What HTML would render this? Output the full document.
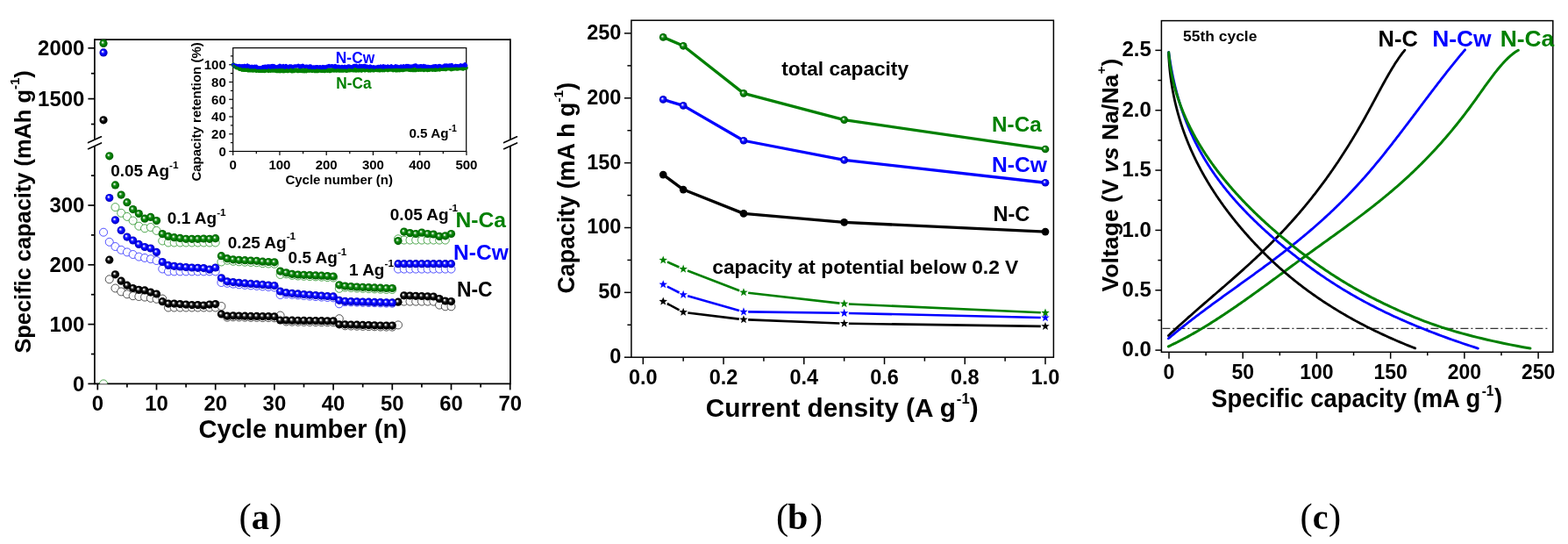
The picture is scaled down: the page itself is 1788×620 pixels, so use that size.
<!DOCTYPE html>
<html><head><meta charset="utf-8"><title>Figure</title>
<style>html,body{margin:0;padding:0;background:#fff;}svg{display:block;}</style></head><body>
<svg width="1788" height="620" viewBox="0 0 1788 620">
<defs>
<radialGradient id="ballg" cx="0.5" cy="0.5" r="0.5" fx="0.37" fy="0.36"><stop offset="0" stop-color="#f4fff4"/><stop offset="0.16" stop-color="#c0e4c0"/><stop offset="0.36" stop-color="#2a902a"/><stop offset="0.6" stop-color="#008000"/><stop offset="1" stop-color="#005c00"/></radialGradient>
<radialGradient id="ballb" cx="0.5" cy="0.5" r="0.5" fx="0.37" fy="0.36"><stop offset="0" stop-color="#ffffff"/><stop offset="0.16" stop-color="#c8c8ff"/><stop offset="0.36" stop-color="#2a2aff"/><stop offset="0.6" stop-color="#0000ff"/><stop offset="1" stop-color="#0000b0"/></radialGradient>
<radialGradient id="ballk" cx="0.5" cy="0.5" r="0.5" fx="0.37" fy="0.36"><stop offset="0" stop-color="#ffffff"/><stop offset="0.16" stop-color="#d8d8d8"/><stop offset="0.36" stop-color="#383838"/><stop offset="0.6" stop-color="#000000"/><stop offset="1" stop-color="#000000"/></radialGradient>
<clipPath id="clipA"><rect x="108" y="45" width="474" height="392.4"/></clipPath>
</defs>
<rect x="0" y="0" width="1788" height="620" fill="#fff"/>
<line x1="107.9" y1="44.35" x2="107.9" y2="159" stroke="#000" stroke-width="1.7"/>
<line x1="107.9" y1="166.3" x2="107.9" y2="438.25" stroke="#000" stroke-width="1.7"/>
<line x1="581.9" y1="44.35" x2="581.9" y2="159" stroke="#000" stroke-width="1.7"/>
<line x1="581.9" y1="166.3" x2="581.9" y2="438.25" stroke="#000" stroke-width="1.7"/>
<line x1="107.9" y1="45.2" x2="581.9" y2="45.2" stroke="#000" stroke-width="1.7"/>
<line x1="107.9" y1="437.4" x2="581.9" y2="437.4" stroke="#000" stroke-width="1.7"/>
<line x1="100.6" y1="162.6" x2="115.5" y2="155.8" stroke="#000" stroke-width="1.6" stroke-linecap="round"/>
<line x1="100.6" y1="169.7" x2="115.5" y2="162.9" stroke="#000" stroke-width="1.6" stroke-linecap="round"/>
<line x1="574.6" y1="162.6" x2="589.5" y2="155.8" stroke="#000" stroke-width="1.6" stroke-linecap="round"/>
<line x1="574.6" y1="169.7" x2="589.5" y2="162.9" stroke="#000" stroke-width="1.6" stroke-linecap="round"/>
<line x1="100.4" y1="437.4" x2="107.9" y2="437.4" stroke="#000" stroke-width="1.7"/>
<line x1="100.4" y1="369.6" x2="107.9" y2="369.6" stroke="#000" stroke-width="1.7"/>
<line x1="100.4" y1="301.8" x2="107.9" y2="301.8" stroke="#000" stroke-width="1.7"/>
<line x1="100.4" y1="234" x2="107.9" y2="234" stroke="#000" stroke-width="1.7"/>
<line x1="103.9" y1="403.5" x2="107.9" y2="403.5" stroke="#000" stroke-width="1.7"/>
<line x1="103.9" y1="335.7" x2="107.9" y2="335.7" stroke="#000" stroke-width="1.7"/>
<line x1="103.9" y1="267.9" x2="107.9" y2="267.9" stroke="#000" stroke-width="1.7"/>
<line x1="103.9" y1="200.1" x2="107.9" y2="200.1" stroke="#000" stroke-width="1.7"/>
<line x1="100.4" y1="112.6" x2="107.9" y2="112.6" stroke="#000" stroke-width="1.7"/>
<line x1="100.4" y1="54.8" x2="107.9" y2="54.8" stroke="#000" stroke-width="1.7"/>
<line x1="103.9" y1="141.5" x2="107.9" y2="141.5" stroke="#000" stroke-width="1.7"/>
<line x1="103.9" y1="83.7" x2="107.9" y2="83.7" stroke="#000" stroke-width="1.7"/>
<line x1="111.3" y1="437.4" x2="111.3" y2="444.4" stroke="#000" stroke-width="1.7"/>
<line x1="178.5" y1="437.4" x2="178.5" y2="444.4" stroke="#000" stroke-width="1.7"/>
<line x1="245.7" y1="437.4" x2="245.7" y2="444.4" stroke="#000" stroke-width="1.7"/>
<line x1="312.9" y1="437.4" x2="312.9" y2="444.4" stroke="#000" stroke-width="1.7"/>
<line x1="380.1" y1="437.4" x2="380.1" y2="444.4" stroke="#000" stroke-width="1.7"/>
<line x1="447.3" y1="437.4" x2="447.3" y2="444.4" stroke="#000" stroke-width="1.7"/>
<line x1="514.5" y1="437.4" x2="514.5" y2="444.4" stroke="#000" stroke-width="1.7"/>
<line x1="581.7" y1="437.4" x2="581.7" y2="444.4" stroke="#000" stroke-width="1.7"/>
<line x1="144.9" y1="437.4" x2="144.9" y2="441.4" stroke="#000" stroke-width="1.7"/>
<line x1="212.1" y1="437.4" x2="212.1" y2="441.4" stroke="#000" stroke-width="1.7"/>
<line x1="279.3" y1="437.4" x2="279.3" y2="441.4" stroke="#000" stroke-width="1.7"/>
<line x1="346.5" y1="437.4" x2="346.5" y2="441.4" stroke="#000" stroke-width="1.7"/>
<line x1="413.7" y1="437.4" x2="413.7" y2="441.4" stroke="#000" stroke-width="1.7"/>
<line x1="480.9" y1="437.4" x2="480.9" y2="441.4" stroke="#000" stroke-width="1.7"/>
<line x1="548.1" y1="437.4" x2="548.1" y2="441.4" stroke="#000" stroke-width="1.7"/>
<text transform="translate(96.3,445.6) scale(1.04,1)" font-size="23" text-anchor="end" fill="#000" font-weight="bold" font-family="'Liberation Sans', Arial, sans-serif">0</text>
<text transform="translate(96.3,377.8) scale(1.04,1)" font-size="23" text-anchor="end" fill="#000" font-weight="bold" font-family="'Liberation Sans', Arial, sans-serif">100</text>
<text transform="translate(96.3,310) scale(1.04,1)" font-size="23" text-anchor="end" fill="#000" font-weight="bold" font-family="'Liberation Sans', Arial, sans-serif">200</text>
<text transform="translate(96.3,242.2) scale(1.04,1)" font-size="23" text-anchor="end" fill="#000" font-weight="bold" font-family="'Liberation Sans', Arial, sans-serif">300</text>
<text transform="translate(96.3,120.8) scale(1.04,1)" font-size="23" text-anchor="end" fill="#000" font-weight="bold" font-family="'Liberation Sans', Arial, sans-serif">1500</text>
<text transform="translate(96.3,63) scale(1.04,1)" font-size="23" text-anchor="end" fill="#000" font-weight="bold" font-family="'Liberation Sans', Arial, sans-serif">2000</text>
<text transform="translate(111.3,468.2) scale(1.04,1)" font-size="23" text-anchor="middle" fill="#000" font-weight="bold" font-family="'Liberation Sans', Arial, sans-serif">0</text>
<text transform="translate(178.5,468.2) scale(1.04,1)" font-size="23" text-anchor="middle" fill="#000" font-weight="bold" font-family="'Liberation Sans', Arial, sans-serif">10</text>
<text transform="translate(245.7,468.2) scale(1.04,1)" font-size="23" text-anchor="middle" fill="#000" font-weight="bold" font-family="'Liberation Sans', Arial, sans-serif">20</text>
<text transform="translate(312.9,468.2) scale(1.04,1)" font-size="23" text-anchor="middle" fill="#000" font-weight="bold" font-family="'Liberation Sans', Arial, sans-serif">30</text>
<text transform="translate(380.1,468.2) scale(1.04,1)" font-size="23" text-anchor="middle" fill="#000" font-weight="bold" font-family="'Liberation Sans', Arial, sans-serif">40</text>
<text transform="translate(447.3,468.2) scale(1.04,1)" font-size="23" text-anchor="middle" fill="#000" font-weight="bold" font-family="'Liberation Sans', Arial, sans-serif">50</text>
<text transform="translate(514.5,468.2) scale(1.04,1)" font-size="23" text-anchor="middle" fill="#000" font-weight="bold" font-family="'Liberation Sans', Arial, sans-serif">60</text>
<text transform="translate(581.7,468.2) scale(1.04,1)" font-size="23" text-anchor="middle" fill="#000" font-weight="bold" font-family="'Liberation Sans', Arial, sans-serif">70</text>
<text x="345.2" y="499.2" font-size="29.5" text-anchor="middle" fill="#000" font-weight="bold" font-family="'Liberation Sans', Arial, sans-serif" textLength="237.3" lengthAdjust="spacingAndGlyphs">Cycle number (n)</text>
<text transform="translate(35,402.6) rotate(-90)" x="0" y="0" font-size="25.4" font-weight="bold" font-family="'Liberation Sans', Arial, sans-serif" fill="#000">Specific capacity (mAh g<tspan dy="-13" font-size="15">-1</tspan><tspan dy="13">)</tspan></text>
<rect x="265.7" y="54.6" width="266" height="117.9" fill="#fff" stroke="#000" stroke-width="1.2"/>
<line x1="261.2" y1="172.5" x2="265.7" y2="172.5" stroke="#000" stroke-width="1.2"/>
<line x1="261.2" y1="152.75" x2="265.7" y2="152.75" stroke="#000" stroke-width="1.2"/>
<line x1="261.2" y1="133" x2="265.7" y2="133" stroke="#000" stroke-width="1.2"/>
<line x1="261.2" y1="113.25" x2="265.7" y2="113.25" stroke="#000" stroke-width="1.2"/>
<line x1="261.2" y1="93.5" x2="265.7" y2="93.5" stroke="#000" stroke-width="1.2"/>
<line x1="261.2" y1="73.75" x2="265.7" y2="73.75" stroke="#000" stroke-width="1.2"/>
<line x1="262.9" y1="162.62" x2="265.7" y2="162.62" stroke="#000" stroke-width="1.2"/>
<line x1="262.9" y1="142.88" x2="265.7" y2="142.88" stroke="#000" stroke-width="1.2"/>
<line x1="262.9" y1="123.12" x2="265.7" y2="123.12" stroke="#000" stroke-width="1.2"/>
<line x1="262.9" y1="103.38" x2="265.7" y2="103.38" stroke="#000" stroke-width="1.2"/>
<line x1="262.9" y1="83.62" x2="265.7" y2="83.62" stroke="#000" stroke-width="1.2"/>
<line x1="262.9" y1="63.88" x2="265.7" y2="63.88" stroke="#000" stroke-width="1.2"/>
<line x1="265.7" y1="172.5" x2="265.7" y2="177" stroke="#000" stroke-width="1.2"/>
<line x1="318.95" y1="172.5" x2="318.95" y2="177" stroke="#000" stroke-width="1.2"/>
<line x1="372.2" y1="172.5" x2="372.2" y2="177" stroke="#000" stroke-width="1.2"/>
<line x1="425.45" y1="172.5" x2="425.45" y2="177" stroke="#000" stroke-width="1.2"/>
<line x1="478.7" y1="172.5" x2="478.7" y2="177" stroke="#000" stroke-width="1.2"/>
<line x1="531.95" y1="172.5" x2="531.95" y2="177" stroke="#000" stroke-width="1.2"/>
<line x1="292.32" y1="172.5" x2="292.32" y2="175.3" stroke="#000" stroke-width="1.2"/>
<line x1="345.57" y1="172.5" x2="345.57" y2="175.3" stroke="#000" stroke-width="1.2"/>
<line x1="398.82" y1="172.5" x2="398.82" y2="175.3" stroke="#000" stroke-width="1.2"/>
<line x1="452.07" y1="172.5" x2="452.07" y2="175.3" stroke="#000" stroke-width="1.2"/>
<line x1="505.32" y1="172.5" x2="505.32" y2="175.3" stroke="#000" stroke-width="1.2"/>
<text x="257.8" y="177.8" font-size="15" text-anchor="end" fill="#000" font-weight="bold" font-family="'Liberation Sans', Arial, sans-serif">0</text>
<text x="257.8" y="158.05" font-size="15" text-anchor="end" fill="#000" font-weight="bold" font-family="'Liberation Sans', Arial, sans-serif">20</text>
<text x="257.8" y="138.3" font-size="15" text-anchor="end" fill="#000" font-weight="bold" font-family="'Liberation Sans', Arial, sans-serif">40</text>
<text x="257.8" y="118.55" font-size="15" text-anchor="end" fill="#000" font-weight="bold" font-family="'Liberation Sans', Arial, sans-serif">60</text>
<text x="257.8" y="98.8" font-size="15" text-anchor="end" fill="#000" font-weight="bold" font-family="'Liberation Sans', Arial, sans-serif">80</text>
<text x="257.8" y="79.05" font-size="15" text-anchor="end" fill="#000" font-weight="bold" font-family="'Liberation Sans', Arial, sans-serif">100</text>
<text x="265.7" y="192.6" font-size="15" text-anchor="middle" fill="#000" font-weight="bold" font-family="'Liberation Sans', Arial, sans-serif">0</text>
<text x="318.95" y="192.6" font-size="15" text-anchor="middle" fill="#000" font-weight="bold" font-family="'Liberation Sans', Arial, sans-serif">100</text>
<text x="372.2" y="192.6" font-size="15" text-anchor="middle" fill="#000" font-weight="bold" font-family="'Liberation Sans', Arial, sans-serif">200</text>
<text x="425.45" y="192.6" font-size="15" text-anchor="middle" fill="#000" font-weight="bold" font-family="'Liberation Sans', Arial, sans-serif">300</text>
<text x="478.7" y="192.6" font-size="15" text-anchor="middle" fill="#000" font-weight="bold" font-family="'Liberation Sans', Arial, sans-serif">400</text>
<text x="531.95" y="192.6" font-size="15" text-anchor="middle" fill="#000" font-weight="bold" font-family="'Liberation Sans', Arial, sans-serif">500</text>
<text x="386.7" y="210.1" font-size="15" text-anchor="middle" fill="#000" font-weight="bold" font-family="'Liberation Sans', Arial, sans-serif">Cycle number (n)</text>
<text transform="translate(229.3,206.6) rotate(-90)" x="0" y="0" font-size="15" font-weight="bold" font-family="'Liberation Sans', Arial, sans-serif" fill="#000">Capacity retention (%)</text>
<polyline points="266.2,73.89 267.2,75.06 268.2,75.54 269.2,76.42 270.2,76.95 271.2,76.72 272.2,77.03 273.2,78.34 274.2,77.92 275.2,78.13 276.2,79.25 277.2,78.8 278.2,79.39 279.2,79.09 280.2,79.41 281.2,78.92 282.2,79.59 283.2,79.95 284.2,79.6 285.2,79.92 286.2,79.89 287.2,79.2 288.2,80.08 289.2,79.91 290.2,79.6 291.2,79.3 292.2,80.33 293.2,79.88 294.2,80.2 295.2,80.41 296.2,80.23 297.2,80.5 298.2,79.88 299.2,80.39 300.2,79.97 301.2,80.57 302.2,80.52 303.2,79.59 304.2,79.65 305.2,79.76 306.2,80.67 307.2,80.04 308.2,80.28 309.2,79.9 310.2,80.15 311.2,80.01 312.2,79.98 313.2,80.27 314.2,80.28 315.2,80.67 316.2,80.41 317.2,80.71 318.2,80.63 319.2,80.8 320.2,80.42 321.2,79.81 322.2,80.65 323.2,80.78 324.2,80.72 325.2,80.32 326.2,80.5 327.2,79.9 328.2,80.64 329.2,80.34 330.2,79.99 331.2,79.73 332.2,80.68 333.2,80.85 334.2,79.77 335.2,80.62 336.2,80.16 337.2,79.85 338.2,80.02 339.2,80.59 340.2,80.71 341.2,79.72 342.2,80.4 343.2,79.72 344.2,80.53 345.2,80.06 346.2,80.72 347.2,80.84 348.2,80.27 349.2,80.86 350.2,80.03 351.2,79.75 352.2,80.37 353.2,79.69 354.2,79.88 355.2,80.13 356.2,80.37 357.2,79.82 358.2,79.68 359.2,80.67 360.2,80 361.2,80.77 362.2,80.69 363.2,80.06 364.2,80.15 365.2,80.22 366.2,80.36 367.2,80.3 368.2,80.25 369.2,80.31 370.2,80.69 371.2,80.16 372.2,80.06 373.2,80.4 374.2,79.82 375.2,79.88 376.2,80.69 377.2,80.13 378.2,80.16 379.2,79.5 380.2,79.98 381.2,80.17 382.2,79.49 383.2,80.19 384.2,80.2 385.2,79.5 386.2,80.18 387.2,79.97 388.2,80.22 389.2,79.82 390.2,80.23 391.2,80.26 392.2,79.39 393.2,79.42 394.2,80.15 395.2,80.48 396.2,79.62 397.2,79.85 398.2,80 399.2,79.67 400.2,79.71 401.2,79.63 402.2,79.69 403.2,79.95 404.2,79.58 405.2,79.66 406.2,80.13 407.2,79.22 408.2,79.86 409.2,80.04 410.2,79.52 411.2,79.4 412.2,80.09 413.2,79.4 414.2,79.33 415.2,79.61 416.2,79.91 417.2,79.19 418.2,79.44 419.2,79.44 420.2,80.03 421.2,79.54 422.2,80.03 423.2,79.19 424.2,79.38 425.2,79.75 426.2,80.01 427.2,79.48 428.2,79.2 429.2,79.06 430.2,79.54 431.2,79.12 432.2,79.85 433.2,79.88 434.2,79.08 435.2,79.18 436.2,79.8 437.2,79.59 438.2,79.78 439.2,79.22 440.2,78.95 441.2,79.13 442.2,79.72 443.2,79.08 444.2,79.16 445.2,79.24 446.2,79.23 447.2,79.21 448.2,79.81 449.2,78.89 450.2,78.7 451.2,79.81 452.2,79.73 453.2,79.85 454.2,79.17 455.2,79.79 456.2,79.75 457.2,78.89 458.2,79.51 459.2,79.62 460.2,79.4 461.2,79.22 462.2,78.94 463.2,78.99 464.2,78.85 465.2,78.65 466.2,79.27 467.2,78.9 468.2,79.52 469.2,78.6 470.2,79.62 471.2,79.37 472.2,79.64 473.2,79.6 474.2,79.6 475.2,79.21 476.2,78.53 477.2,79.4 478.2,78.71 479.2,78.86 480.2,79.29 481.2,79.13 482.2,78.99 483.2,79.62 484.2,79.22 485.2,78.9 486.2,78.79 487.2,79.52 488.2,79.06 489.2,79.42 490.2,78.87 491.2,78.65 492.2,79.02 493.2,79.32 494.2,78.51 495.2,79.22 496.2,79.34 497.2,79.16 498.2,79.15 499.2,78.13 500.2,78.84 501.2,79.09 502.2,78.08 503.2,78.31 504.2,78.27 505.2,78.55 506.2,78.39 507.2,78.42 508.2,78.75 509.2,77.79 510.2,77.82 511.2,77.87 512.2,77.84 513.2,77.74 514.2,78.8 515.2,78.62 516.2,77.67 517.2,78.14 518.2,77.88 519.2,77.85 520.2,77.86 521.2,78.19 522.2,78.09 523.2,77.78 524.2,77.55 525.2,77.69 526.2,77.41 527.2,77.9 528.2,78.07 529.2,77.63 530.2,77.25 531.2,77.34" fill="none" stroke="#008000" stroke-width="5.2" stroke-linejoin="round" stroke-linecap="round" stroke-linecap="butt"/>
<polyline points="266.2,73.87 267.2,74.63 268.2,75.22 269.2,74.59 270.2,75.57 271.2,75.31 272.2,75 273.2,74.93 274.2,75.2 275.2,75.64 276.2,75.09 277.2,75.65 278.2,75.2 279.2,74.79 280.2,75.41 281.2,75.77 282.2,74.57 283.2,75.35 284.2,75.42 285.2,76.42 286.2,76.63 287.2,75.61 288.2,76.77 289.2,76.66 290.2,75.72 291.2,76.23 292.2,75.64 293.2,77.11 294.2,76.89 295.2,77.4 296.2,77.25 297.2,77.03 298.2,77.17 299.2,76.82 300.2,75.87 301.2,76.8 302.2,75.57 303.2,75.78 304.2,76.95 305.2,75.4 306.2,75.4 307.2,75.31 308.2,76.78 309.2,75.28 310.2,74.88 311.2,76.44 312.2,74.93 313.2,76.32 314.2,75.94 315.2,76.24 316.2,76.46 317.2,75.72 318.2,76.17 319.2,74.67 320.2,76.17 321.2,75.7 322.2,76.15 323.2,74.98 324.2,76.31 325.2,76.72 326.2,75.01 327.2,75.56 328.2,76.06 329.2,76.59 330.2,75.42 331.2,75.28 332.2,75.39 333.2,76.08 334.2,76.31 335.2,75.54 336.2,75.43 337.2,75.43 338.2,75.27 339.2,75.35 340.2,74.63 341.2,75.42 342.2,76.34 343.2,75.2 344.2,75.86 345.2,74.7 346.2,75.79 347.2,75.96 348.2,75.86 349.2,75.62 350.2,75.64 351.2,76.05 352.2,76.66 353.2,75.28 354.2,75.28 355.2,76.69 356.2,77.14 357.2,76.43 358.2,76.37 359.2,77 360.2,75.99 361.2,76.19 362.2,76.08 363.2,76.86 364.2,76.31 365.2,76.11 366.2,76.98 367.2,77.45 368.2,76.06 369.2,76.8 370.2,76.13 371.2,76.92 372.2,76.28 373.2,75.56 374.2,75.38 375.2,74.91 376.2,75.76 377.2,75.51 378.2,75.05 379.2,75.39 380.2,75.3 381.2,76.2 382.2,74.95 383.2,76.67 384.2,75.67 385.2,75.95 386.2,75.73 387.2,76.5 388.2,76.52 389.2,76.03 390.2,75.91 391.2,76.41 392.2,76.69 393.2,75.78 394.2,76.44 395.2,76.88 396.2,75.86 397.2,75.34 398.2,75.3 399.2,76.2 400.2,76.05 401.2,76.55 402.2,76.27 403.2,74.98 404.2,74.81 405.2,74.89 406.2,74.71 407.2,75.71 408.2,76.01 409.2,76.09 410.2,74.82 411.2,76.07 412.2,75.02 413.2,75.3 414.2,75.99 415.2,74.8 416.2,74.92 417.2,76.51 418.2,75.54 419.2,75.78 420.2,76.34 421.2,76.63 422.2,75.39 423.2,76.13 424.2,76.41 425.2,76.56 426.2,76.05 427.2,76.82 428.2,77.56 429.2,76.42 430.2,76.69 431.2,75.8 432.2,76.05 433.2,76.76 434.2,75.58 435.2,77.05 436.2,77.01 437.2,75.3 438.2,76.91 439.2,75.7 440.2,76.44 441.2,76.35 442.2,75.39 443.2,76.12 444.2,76.06 445.2,76.36 446.2,75.29 447.2,76.28 448.2,76.73 449.2,76.18 450.2,75.95 451.2,75.14 452.2,75.94 453.2,75.69 454.2,76.46 455.2,76.4 456.2,76.19 457.2,75.42 458.2,76.33 459.2,76.28 460.2,75.34 461.2,76.71 462.2,76.19 463.2,75.06 464.2,76.6 465.2,74.94 466.2,75.24 467.2,75.94 468.2,75.62 469.2,75.47 470.2,75.6 471.2,75.18 472.2,74.86 473.2,74.57 474.2,74.36 475.2,75.68 476.2,75.8 477.2,75.43 478.2,75.89 479.2,75.2 480.2,75.09 481.2,75.4 482.2,76.46 483.2,74.88 484.2,75.89 485.2,75.46 486.2,76.58 487.2,75.81 488.2,75.83 489.2,76 490.2,76.3 491.2,76.77 492.2,75.92 493.2,76.88 494.2,75.37 495.2,75.62 496.2,75.21 497.2,75.15 498.2,76.39 499.2,76.19 500.2,75 501.2,74.91 502.2,75.26 503.2,75.82 504.2,75.88 505.2,75.67 506.2,75.29 507.2,74.35 508.2,74.81 509.2,74.37 510.2,75.02 511.2,75.09 512.2,74.36 513.2,74.46 514.2,75.53 515.2,74.04 516.2,75.6 517.2,75.79 518.2,75.91 519.2,74.77 520.2,75.09 521.2,75.13 522.2,75.19 523.2,75.82 524.2,75.18 525.2,74.32 526.2,75.35 527.2,74.5 528.2,74.63 529.2,74.77 530.2,73.2 531.2,74.62" fill="none" stroke="#0000ff" stroke-width="4.2" stroke-linejoin="round" stroke-linecap="round" stroke-linecap="butt"/>
<polyline points="266.2,74.36 267.5,75.22 268.8,76.09 270.1,76.71 271.4,77.01 272.7,77.81 274,77.7 275.3,78.47 276.6,78.88 277.9,78.89 279.2,79.19 280.5,79.73 281.8,79.79 283.1,79.13 284.4,79.88 285.7,79.78 287,79.27 288.3,79.63 289.6,79.55 290.9,79.44 292.2,79.93 293.5,80.35 294.8,79.77 296.1,80.35 297.4,80.19 298.7,79.65 300,80.39 301.3,80.15 302.6,80.5 303.9,80.3 305.2,80.34 306.5,79.95 307.8,80.43 309.1,80.57 310.4,80.51 311.7,80.09 313,80.42 314.3,80.16 315.6,79.79 316.9,79.74 318.2,79.78 319.5,79.91 320.8,79.88 322.1,80.22 323.4,80.43 324.7,80.27 326,80.16 327.3,80.39 328.6,80.05 329.9,80.22 331.2,80.51 332.5,80.16 333.8,79.94 335.1,80.66 336.4,80.48 337.7,80.13 339,80.14 340.3,80.3 341.6,80.36 342.9,79.99 344.2,79.77 345.5,79.97 346.8,80.55 348.1,79.9 349.4,80.22 350.7,79.95 352,79.96 353.3,79.92 354.6,80.15 355.9,79.91 357.2,79.76 358.5,79.84 359.8,79.89 361.1,80.21 362.4,79.77 363.7,79.72 365,80.14 366.3,80.09 367.6,80.38 368.9,79.72 370.2,80.06 371.5,80.05 372.8,79.67 374.1,80.6 375.4,79.84 376.7,79.7 378,80.07 379.3,79.75 380.6,80.2 381.9,79.91 383.2,79.68 384.5,79.59 385.8,80.25 387.1,79.79 388.4,80.29 389.7,79.95 391,80.41 392.3,79.76 393.6,79.69 394.9,79.7 396.2,80.23 397.5,80.03 398.8,79.73 400.1,79.46 401.4,80.04 402.7,80.31 404,79.92 405.3,79.31 406.6,79.32 407.9,79.37 409.2,79.43 410.5,79.28 411.8,79.28 413.1,79.87 414.4,80.1 415.7,79.38 417,80.14 418.3,79.63 419.6,79.94 420.9,80.04 422.2,80.04 423.5,79.12 424.8,79.37 426.1,79.66 427.4,79.99 428.7,79.11 430,79.3 431.3,79.84 432.6,79.09 433.9,79.35 435.2,79.28 436.5,79.61 437.8,79.85 439.1,79.08 440.4,79.63 441.7,79.61 443,79.7 444.3,79.4 445.6,79.76 446.9,79.18 448.2,79.22 449.5,79.03 450.8,79.56 452.1,79.25 453.4,79.03 454.7,78.92 456,79.46 457.3,79.33 458.6,79.43 459.9,79.09 461.2,79.18 462.5,78.84 463.8,79.39 465.1,78.69 466.4,79.13 467.7,79.41 469,79.32 470.3,78.74 471.6,78.87 472.9,79.47 474.2,79.26 475.5,79.49 476.8,79.48 478.1,79.06 479.4,79.5 480.7,79.33 482,78.93 483.3,78.96 484.6,78.66 485.9,78.99 487.2,79.54 488.5,78.69 489.8,79.14 491.1,78.63 492.4,78.55 493.7,79.07 495,78.62 496.3,78.38 497.6,78.43 498.9,78.88 500.2,78.78 501.5,78.16 502.8,78.33 504.1,79.02 505.4,78.23 506.7,78.53 508,78.35 509.3,78.66 510.6,78.44 511.9,78.59 513.2,78.29 514.5,77.9 515.8,77.85 517.1,77.71 518.4,78.42 519.7,77.67 521,77.54 522.3,78.44 523.6,77.64 524.9,78.3 526.2,77.45 527.5,77.79 528.8,77.51 530.1,78.08" fill="none" stroke="#008000" stroke-width="2" stroke-linejoin="round" stroke-linecap="round" stroke-linecap="butt"/>
<text x="382.8" y="71.6" font-size="18" text-anchor="start" fill="#0000ff" font-weight="bold" font-family="'Liberation Sans', Arial, sans-serif" textLength="44.4" lengthAdjust="spacingAndGlyphs">N-Cw</text>
<text x="383.3" y="100.7" font-size="17.6" text-anchor="start" fill="#008000" font-weight="bold" font-family="'Liberation Sans', Arial, sans-serif" textLength="40.3" lengthAdjust="spacingAndGlyphs">N-Ca</text>
<text x="466.4" y="157.4" font-size="15.2" font-weight="bold" font-family="'Liberation Sans', Arial, sans-serif" fill="#000">0.5 Ag<tspan dy="-7" font-size="10.5">-1</tspan></text>
<g clip-path="url(#clipA)">
<circle cx="124.74" cy="318.3" r="4.5" fill="#fff" stroke="#000000" stroke-width="0.75" stroke-opacity="0.9"/>
<circle cx="124.74" cy="318.3" r="0.45" fill="#000000" opacity="0.35"/>
<circle cx="131.46" cy="328.5" r="4.5" fill="#fff" stroke="#000000" stroke-width="0.75" stroke-opacity="0.9"/>
<circle cx="131.46" cy="328.5" r="0.45" fill="#000000" opacity="0.35"/>
<circle cx="138.18" cy="332.4" r="4.5" fill="#fff" stroke="#000000" stroke-width="0.75" stroke-opacity="0.9"/>
<circle cx="138.18" cy="332.4" r="0.45" fill="#000000" opacity="0.35"/>
<circle cx="144.9" cy="335.3" r="4.5" fill="#fff" stroke="#000000" stroke-width="0.75" stroke-opacity="0.9"/>
<circle cx="144.9" cy="335.3" r="0.45" fill="#000000" opacity="0.35"/>
<circle cx="151.62" cy="337.2" r="4.5" fill="#fff" stroke="#000000" stroke-width="0.75" stroke-opacity="0.9"/>
<circle cx="151.62" cy="337.2" r="0.45" fill="#000000" opacity="0.35"/>
<circle cx="158.34" cy="338" r="4.5" fill="#fff" stroke="#000000" stroke-width="0.75" stroke-opacity="0.9"/>
<circle cx="158.34" cy="338" r="0.45" fill="#000000" opacity="0.35"/>
<circle cx="165.06" cy="338.6" r="4.5" fill="#fff" stroke="#000000" stroke-width="0.75" stroke-opacity="0.9"/>
<circle cx="165.06" cy="338.6" r="0.45" fill="#000000" opacity="0.35"/>
<circle cx="171.78" cy="339.8" r="4.5" fill="#fff" stroke="#000000" stroke-width="0.75" stroke-opacity="0.9"/>
<circle cx="171.78" cy="339.8" r="0.45" fill="#000000" opacity="0.35"/>
<circle cx="178.5" cy="340.8" r="4.5" fill="#fff" stroke="#000000" stroke-width="0.75" stroke-opacity="0.9"/>
<circle cx="178.5" cy="340.8" r="0.45" fill="#000000" opacity="0.35"/>
<circle cx="185.22" cy="340.5" r="4.5" fill="#fff" stroke="#000000" stroke-width="0.75" stroke-opacity="0.9"/>
<circle cx="185.22" cy="340.5" r="0.45" fill="#000000" opacity="0.35"/>
<circle cx="191.94" cy="350.5" r="4.5" fill="#fff" stroke="#000000" stroke-width="0.75" stroke-opacity="0.9"/>
<circle cx="191.94" cy="350.5" r="0.45" fill="#000000" opacity="0.35"/>
<circle cx="198.66" cy="350.5" r="4.5" fill="#fff" stroke="#000000" stroke-width="0.75" stroke-opacity="0.9"/>
<circle cx="198.66" cy="350.5" r="0.45" fill="#000000" opacity="0.35"/>
<circle cx="205.38" cy="350.5" r="4.5" fill="#fff" stroke="#000000" stroke-width="0.75" stroke-opacity="0.9"/>
<circle cx="205.38" cy="350.5" r="0.45" fill="#000000" opacity="0.35"/>
<circle cx="212.1" cy="350.5" r="4.5" fill="#fff" stroke="#000000" stroke-width="0.75" stroke-opacity="0.9"/>
<circle cx="212.1" cy="350.5" r="0.45" fill="#000000" opacity="0.35"/>
<circle cx="218.82" cy="350.5" r="4.5" fill="#fff" stroke="#000000" stroke-width="0.75" stroke-opacity="0.9"/>
<circle cx="218.82" cy="350.5" r="0.45" fill="#000000" opacity="0.35"/>
<circle cx="225.54" cy="350.5" r="4.5" fill="#fff" stroke="#000000" stroke-width="0.75" stroke-opacity="0.9"/>
<circle cx="225.54" cy="350.5" r="0.45" fill="#000000" opacity="0.35"/>
<circle cx="232.26" cy="350.5" r="4.5" fill="#fff" stroke="#000000" stroke-width="0.75" stroke-opacity="0.9"/>
<circle cx="232.26" cy="350.5" r="0.45" fill="#000000" opacity="0.35"/>
<circle cx="238.98" cy="350.5" r="4.5" fill="#fff" stroke="#000000" stroke-width="0.75" stroke-opacity="0.9"/>
<circle cx="238.98" cy="350.5" r="0.45" fill="#000000" opacity="0.35"/>
<circle cx="245.7" cy="350.5" r="4.5" fill="#fff" stroke="#000000" stroke-width="0.75" stroke-opacity="0.9"/>
<circle cx="245.7" cy="350.5" r="0.45" fill="#000000" opacity="0.35"/>
<circle cx="252.42" cy="349" r="4.5" fill="#fff" stroke="#000000" stroke-width="0.75" stroke-opacity="0.9"/>
<circle cx="252.42" cy="349" r="0.45" fill="#000000" opacity="0.35"/>
<circle cx="259.14" cy="361.7" r="4.5" fill="#fff" stroke="#000000" stroke-width="0.75" stroke-opacity="0.9"/>
<circle cx="259.14" cy="361.7" r="0.45" fill="#000000" opacity="0.35"/>
<circle cx="265.86" cy="361.3" r="4.5" fill="#fff" stroke="#000000" stroke-width="0.75" stroke-opacity="0.9"/>
<circle cx="265.86" cy="361.3" r="0.45" fill="#000000" opacity="0.35"/>
<circle cx="272.58" cy="361.5" r="4.5" fill="#fff" stroke="#000000" stroke-width="0.75" stroke-opacity="0.9"/>
<circle cx="272.58" cy="361.5" r="0.45" fill="#000000" opacity="0.35"/>
<circle cx="279.3" cy="361.7" r="4.5" fill="#fff" stroke="#000000" stroke-width="0.75" stroke-opacity="0.9"/>
<circle cx="279.3" cy="361.7" r="0.45" fill="#000000" opacity="0.35"/>
<circle cx="286.02" cy="361.9" r="4.5" fill="#fff" stroke="#000000" stroke-width="0.75" stroke-opacity="0.9"/>
<circle cx="286.02" cy="361.9" r="0.45" fill="#000000" opacity="0.35"/>
<circle cx="292.74" cy="361.9" r="4.5" fill="#fff" stroke="#000000" stroke-width="0.75" stroke-opacity="0.9"/>
<circle cx="292.74" cy="361.9" r="0.45" fill="#000000" opacity="0.35"/>
<circle cx="299.46" cy="362.1" r="4.5" fill="#fff" stroke="#000000" stroke-width="0.75" stroke-opacity="0.9"/>
<circle cx="299.46" cy="362.1" r="0.45" fill="#000000" opacity="0.35"/>
<circle cx="306.18" cy="362.1" r="4.5" fill="#fff" stroke="#000000" stroke-width="0.75" stroke-opacity="0.9"/>
<circle cx="306.18" cy="362.1" r="0.45" fill="#000000" opacity="0.35"/>
<circle cx="312.9" cy="362.3" r="4.5" fill="#fff" stroke="#000000" stroke-width="0.75" stroke-opacity="0.9"/>
<circle cx="312.9" cy="362.3" r="0.45" fill="#000000" opacity="0.35"/>
<circle cx="319.62" cy="359.5" r="4.5" fill="#fff" stroke="#000000" stroke-width="0.75" stroke-opacity="0.9"/>
<circle cx="319.62" cy="359.5" r="0.45" fill="#000000" opacity="0.35"/>
<circle cx="326.34" cy="366.5" r="4.5" fill="#fff" stroke="#000000" stroke-width="0.75" stroke-opacity="0.9"/>
<circle cx="326.34" cy="366.5" r="0.45" fill="#000000" opacity="0.35"/>
<circle cx="333.06" cy="366.7" r="4.5" fill="#fff" stroke="#000000" stroke-width="0.75" stroke-opacity="0.9"/>
<circle cx="333.06" cy="366.7" r="0.45" fill="#000000" opacity="0.35"/>
<circle cx="339.78" cy="366.8" r="4.5" fill="#fff" stroke="#000000" stroke-width="0.75" stroke-opacity="0.9"/>
<circle cx="339.78" cy="366.8" r="0.45" fill="#000000" opacity="0.35"/>
<circle cx="346.5" cy="366.9" r="4.5" fill="#fff" stroke="#000000" stroke-width="0.75" stroke-opacity="0.9"/>
<circle cx="346.5" cy="366.9" r="0.45" fill="#000000" opacity="0.35"/>
<circle cx="353.22" cy="367" r="4.5" fill="#fff" stroke="#000000" stroke-width="0.75" stroke-opacity="0.9"/>
<circle cx="353.22" cy="367" r="0.45" fill="#000000" opacity="0.35"/>
<circle cx="359.94" cy="367.1" r="4.5" fill="#fff" stroke="#000000" stroke-width="0.75" stroke-opacity="0.9"/>
<circle cx="359.94" cy="367.1" r="0.45" fill="#000000" opacity="0.35"/>
<circle cx="366.66" cy="367.2" r="4.5" fill="#fff" stroke="#000000" stroke-width="0.75" stroke-opacity="0.9"/>
<circle cx="366.66" cy="367.2" r="0.45" fill="#000000" opacity="0.35"/>
<circle cx="373.38" cy="367.3" r="4.5" fill="#fff" stroke="#000000" stroke-width="0.75" stroke-opacity="0.9"/>
<circle cx="373.38" cy="367.3" r="0.45" fill="#000000" opacity="0.35"/>
<circle cx="380.1" cy="367.3" r="4.5" fill="#fff" stroke="#000000" stroke-width="0.75" stroke-opacity="0.9"/>
<circle cx="380.1" cy="367.3" r="0.45" fill="#000000" opacity="0.35"/>
<circle cx="386.82" cy="363.2" r="4.5" fill="#fff" stroke="#000000" stroke-width="0.75" stroke-opacity="0.9"/>
<circle cx="386.82" cy="363.2" r="0.45" fill="#000000" opacity="0.35"/>
<circle cx="393.54" cy="371.3" r="4.5" fill="#fff" stroke="#000000" stroke-width="0.75" stroke-opacity="0.9"/>
<circle cx="393.54" cy="371.3" r="0.45" fill="#000000" opacity="0.35"/>
<circle cx="400.26" cy="371.5" r="4.5" fill="#fff" stroke="#000000" stroke-width="0.75" stroke-opacity="0.9"/>
<circle cx="400.26" cy="371.5" r="0.45" fill="#000000" opacity="0.35"/>
<circle cx="406.98" cy="371.7" r="4.5" fill="#fff" stroke="#000000" stroke-width="0.75" stroke-opacity="0.9"/>
<circle cx="406.98" cy="371.7" r="0.45" fill="#000000" opacity="0.35"/>
<circle cx="413.7" cy="371.9" r="4.5" fill="#fff" stroke="#000000" stroke-width="0.75" stroke-opacity="0.9"/>
<circle cx="413.7" cy="371.9" r="0.45" fill="#000000" opacity="0.35"/>
<circle cx="420.42" cy="372.1" r="4.5" fill="#fff" stroke="#000000" stroke-width="0.75" stroke-opacity="0.9"/>
<circle cx="420.42" cy="372.1" r="0.45" fill="#000000" opacity="0.35"/>
<circle cx="427.14" cy="372.3" r="4.5" fill="#fff" stroke="#000000" stroke-width="0.75" stroke-opacity="0.9"/>
<circle cx="427.14" cy="372.3" r="0.45" fill="#000000" opacity="0.35"/>
<circle cx="433.86" cy="372.5" r="4.5" fill="#fff" stroke="#000000" stroke-width="0.75" stroke-opacity="0.9"/>
<circle cx="433.86" cy="372.5" r="0.45" fill="#000000" opacity="0.35"/>
<circle cx="440.58" cy="372.6" r="4.5" fill="#fff" stroke="#000000" stroke-width="0.75" stroke-opacity="0.9"/>
<circle cx="440.58" cy="372.6" r="0.45" fill="#000000" opacity="0.35"/>
<circle cx="447.3" cy="372.6" r="4.5" fill="#fff" stroke="#000000" stroke-width="0.75" stroke-opacity="0.9"/>
<circle cx="447.3" cy="372.6" r="0.45" fill="#000000" opacity="0.35"/>
<circle cx="454.02" cy="370.4" r="4.5" fill="#fff" stroke="#000000" stroke-width="0.75" stroke-opacity="0.9"/>
<circle cx="454.02" cy="370.4" r="0.45" fill="#000000" opacity="0.35"/>
<circle cx="460.74" cy="343.6" r="4.5" fill="#fff" stroke="#000000" stroke-width="0.75" stroke-opacity="0.9"/>
<circle cx="460.74" cy="343.6" r="0.45" fill="#000000" opacity="0.35"/>
<circle cx="467.46" cy="343.6" r="4.5" fill="#fff" stroke="#000000" stroke-width="0.75" stroke-opacity="0.9"/>
<circle cx="467.46" cy="343.6" r="0.45" fill="#000000" opacity="0.35"/>
<circle cx="474.18" cy="343.6" r="4.5" fill="#fff" stroke="#000000" stroke-width="0.75" stroke-opacity="0.9"/>
<circle cx="474.18" cy="343.6" r="0.45" fill="#000000" opacity="0.35"/>
<circle cx="480.9" cy="343.6" r="4.5" fill="#fff" stroke="#000000" stroke-width="0.75" stroke-opacity="0.9"/>
<circle cx="480.9" cy="343.6" r="0.45" fill="#000000" opacity="0.35"/>
<circle cx="487.62" cy="343.6" r="4.5" fill="#fff" stroke="#000000" stroke-width="0.75" stroke-opacity="0.9"/>
<circle cx="487.62" cy="343.6" r="0.45" fill="#000000" opacity="0.35"/>
<circle cx="494.34" cy="343.6" r="4.5" fill="#fff" stroke="#000000" stroke-width="0.75" stroke-opacity="0.9"/>
<circle cx="494.34" cy="343.6" r="0.45" fill="#000000" opacity="0.35"/>
<circle cx="501.06" cy="347.6" r="4.5" fill="#fff" stroke="#000000" stroke-width="0.75" stroke-opacity="0.9"/>
<circle cx="501.06" cy="347.6" r="0.45" fill="#000000" opacity="0.35"/>
<circle cx="507.78" cy="349.3" r="4.5" fill="#fff" stroke="#000000" stroke-width="0.75" stroke-opacity="0.9"/>
<circle cx="507.78" cy="349.3" r="0.45" fill="#000000" opacity="0.35"/>
<circle cx="514.5" cy="349.3" r="4.5" fill="#fff" stroke="#000000" stroke-width="0.75" stroke-opacity="0.9"/>
<circle cx="514.5" cy="349.3" r="0.45" fill="#000000" opacity="0.35"/>
<circle cx="118.02" cy="264.7" r="4.5" fill="#fff" stroke="#0000ff" stroke-width="0.75" stroke-opacity="0.9"/>
<circle cx="118.02" cy="264.7" r="0.45" fill="#0000ff" opacity="0.35"/>
<circle cx="124.74" cy="275.8" r="4.5" fill="#fff" stroke="#0000ff" stroke-width="0.75" stroke-opacity="0.9"/>
<circle cx="124.74" cy="275.8" r="0.45" fill="#0000ff" opacity="0.35"/>
<circle cx="131.46" cy="281" r="4.5" fill="#fff" stroke="#0000ff" stroke-width="0.75" stroke-opacity="0.9"/>
<circle cx="131.46" cy="281" r="0.45" fill="#0000ff" opacity="0.35"/>
<circle cx="138.18" cy="284.8" r="4.5" fill="#fff" stroke="#0000ff" stroke-width="0.75" stroke-opacity="0.9"/>
<circle cx="138.18" cy="284.8" r="0.45" fill="#0000ff" opacity="0.35"/>
<circle cx="144.9" cy="287.4" r="4.5" fill="#fff" stroke="#0000ff" stroke-width="0.75" stroke-opacity="0.9"/>
<circle cx="144.9" cy="287.4" r="0.45" fill="#0000ff" opacity="0.35"/>
<circle cx="151.62" cy="290" r="4.5" fill="#fff" stroke="#0000ff" stroke-width="0.75" stroke-opacity="0.9"/>
<circle cx="151.62" cy="290" r="0.45" fill="#0000ff" opacity="0.35"/>
<circle cx="158.34" cy="292.6" r="4.5" fill="#fff" stroke="#0000ff" stroke-width="0.75" stroke-opacity="0.9"/>
<circle cx="158.34" cy="292.6" r="0.45" fill="#0000ff" opacity="0.35"/>
<circle cx="165.06" cy="293.9" r="4.5" fill="#fff" stroke="#0000ff" stroke-width="0.75" stroke-opacity="0.9"/>
<circle cx="165.06" cy="293.9" r="0.45" fill="#0000ff" opacity="0.35"/>
<circle cx="171.78" cy="295.2" r="4.5" fill="#fff" stroke="#0000ff" stroke-width="0.75" stroke-opacity="0.9"/>
<circle cx="171.78" cy="295.2" r="0.45" fill="#0000ff" opacity="0.35"/>
<circle cx="178.5" cy="297" r="4.5" fill="#fff" stroke="#0000ff" stroke-width="0.75" stroke-opacity="0.9"/>
<circle cx="178.5" cy="297" r="0.45" fill="#0000ff" opacity="0.35"/>
<circle cx="185.22" cy="306.5" r="4.5" fill="#fff" stroke="#0000ff" stroke-width="0.75" stroke-opacity="0.9"/>
<circle cx="185.22" cy="306.5" r="0.45" fill="#0000ff" opacity="0.35"/>
<circle cx="191.94" cy="309.4" r="4.5" fill="#fff" stroke="#0000ff" stroke-width="0.75" stroke-opacity="0.9"/>
<circle cx="191.94" cy="309.4" r="0.45" fill="#0000ff" opacity="0.35"/>
<circle cx="198.66" cy="309.4" r="4.5" fill="#fff" stroke="#0000ff" stroke-width="0.75" stroke-opacity="0.9"/>
<circle cx="198.66" cy="309.4" r="0.45" fill="#0000ff" opacity="0.35"/>
<circle cx="205.38" cy="309.4" r="4.5" fill="#fff" stroke="#0000ff" stroke-width="0.75" stroke-opacity="0.9"/>
<circle cx="205.38" cy="309.4" r="0.45" fill="#0000ff" opacity="0.35"/>
<circle cx="212.1" cy="309.4" r="4.5" fill="#fff" stroke="#0000ff" stroke-width="0.75" stroke-opacity="0.9"/>
<circle cx="212.1" cy="309.4" r="0.45" fill="#0000ff" opacity="0.35"/>
<circle cx="218.82" cy="309.4" r="4.5" fill="#fff" stroke="#0000ff" stroke-width="0.75" stroke-opacity="0.9"/>
<circle cx="218.82" cy="309.4" r="0.45" fill="#0000ff" opacity="0.35"/>
<circle cx="225.54" cy="309.4" r="4.5" fill="#fff" stroke="#0000ff" stroke-width="0.75" stroke-opacity="0.9"/>
<circle cx="225.54" cy="309.4" r="0.45" fill="#0000ff" opacity="0.35"/>
<circle cx="232.26" cy="309.4" r="4.5" fill="#fff" stroke="#0000ff" stroke-width="0.75" stroke-opacity="0.9"/>
<circle cx="232.26" cy="309.4" r="0.45" fill="#0000ff" opacity="0.35"/>
<circle cx="238.98" cy="309.4" r="4.5" fill="#fff" stroke="#0000ff" stroke-width="0.75" stroke-opacity="0.9"/>
<circle cx="238.98" cy="309.4" r="0.45" fill="#0000ff" opacity="0.35"/>
<circle cx="245.7" cy="309.4" r="4.5" fill="#fff" stroke="#0000ff" stroke-width="0.75" stroke-opacity="0.9"/>
<circle cx="245.7" cy="309.4" r="0.45" fill="#0000ff" opacity="0.35"/>
<circle cx="252.42" cy="322" r="4.5" fill="#fff" stroke="#0000ff" stroke-width="0.75" stroke-opacity="0.9"/>
<circle cx="252.42" cy="322" r="0.45" fill="#0000ff" opacity="0.35"/>
<circle cx="259.14" cy="322.8" r="4.5" fill="#fff" stroke="#0000ff" stroke-width="0.75" stroke-opacity="0.9"/>
<circle cx="259.14" cy="322.8" r="0.45" fill="#0000ff" opacity="0.35"/>
<circle cx="265.86" cy="323.6" r="4.5" fill="#fff" stroke="#0000ff" stroke-width="0.75" stroke-opacity="0.9"/>
<circle cx="265.86" cy="323.6" r="0.45" fill="#0000ff" opacity="0.35"/>
<circle cx="272.58" cy="324.3" r="4.5" fill="#fff" stroke="#0000ff" stroke-width="0.75" stroke-opacity="0.9"/>
<circle cx="272.58" cy="324.3" r="0.45" fill="#0000ff" opacity="0.35"/>
<circle cx="279.3" cy="324.9" r="4.5" fill="#fff" stroke="#0000ff" stroke-width="0.75" stroke-opacity="0.9"/>
<circle cx="279.3" cy="324.9" r="0.45" fill="#0000ff" opacity="0.35"/>
<circle cx="286.02" cy="325.4" r="4.5" fill="#fff" stroke="#0000ff" stroke-width="0.75" stroke-opacity="0.9"/>
<circle cx="286.02" cy="325.4" r="0.45" fill="#0000ff" opacity="0.35"/>
<circle cx="292.74" cy="325.9" r="4.5" fill="#fff" stroke="#0000ff" stroke-width="0.75" stroke-opacity="0.9"/>
<circle cx="292.74" cy="325.9" r="0.45" fill="#0000ff" opacity="0.35"/>
<circle cx="299.46" cy="326.4" r="4.5" fill="#fff" stroke="#0000ff" stroke-width="0.75" stroke-opacity="0.9"/>
<circle cx="299.46" cy="326.4" r="0.45" fill="#0000ff" opacity="0.35"/>
<circle cx="306.18" cy="327" r="4.5" fill="#fff" stroke="#0000ff" stroke-width="0.75" stroke-opacity="0.9"/>
<circle cx="306.18" cy="327" r="0.45" fill="#0000ff" opacity="0.35"/>
<circle cx="312.9" cy="327.5" r="4.5" fill="#fff" stroke="#0000ff" stroke-width="0.75" stroke-opacity="0.9"/>
<circle cx="312.9" cy="327.5" r="0.45" fill="#0000ff" opacity="0.35"/>
<circle cx="319.62" cy="336" r="4.5" fill="#fff" stroke="#0000ff" stroke-width="0.75" stroke-opacity="0.9"/>
<circle cx="319.62" cy="336" r="0.45" fill="#0000ff" opacity="0.35"/>
<circle cx="326.34" cy="335.2" r="4.5" fill="#fff" stroke="#0000ff" stroke-width="0.75" stroke-opacity="0.9"/>
<circle cx="326.34" cy="335.2" r="0.45" fill="#0000ff" opacity="0.35"/>
<circle cx="333.06" cy="335.8" r="4.5" fill="#fff" stroke="#0000ff" stroke-width="0.75" stroke-opacity="0.9"/>
<circle cx="333.06" cy="335.8" r="0.45" fill="#0000ff" opacity="0.35"/>
<circle cx="339.78" cy="336.4" r="4.5" fill="#fff" stroke="#0000ff" stroke-width="0.75" stroke-opacity="0.9"/>
<circle cx="339.78" cy="336.4" r="0.45" fill="#0000ff" opacity="0.35"/>
<circle cx="346.5" cy="337" r="4.5" fill="#fff" stroke="#0000ff" stroke-width="0.75" stroke-opacity="0.9"/>
<circle cx="346.5" cy="337" r="0.45" fill="#0000ff" opacity="0.35"/>
<circle cx="353.22" cy="337.6" r="4.5" fill="#fff" stroke="#0000ff" stroke-width="0.75" stroke-opacity="0.9"/>
<circle cx="353.22" cy="337.6" r="0.45" fill="#0000ff" opacity="0.35"/>
<circle cx="359.94" cy="338.1" r="4.5" fill="#fff" stroke="#0000ff" stroke-width="0.75" stroke-opacity="0.9"/>
<circle cx="359.94" cy="338.1" r="0.45" fill="#0000ff" opacity="0.35"/>
<circle cx="366.66" cy="338.6" r="4.5" fill="#fff" stroke="#0000ff" stroke-width="0.75" stroke-opacity="0.9"/>
<circle cx="366.66" cy="338.6" r="0.45" fill="#0000ff" opacity="0.35"/>
<circle cx="373.38" cy="339" r="4.5" fill="#fff" stroke="#0000ff" stroke-width="0.75" stroke-opacity="0.9"/>
<circle cx="373.38" cy="339" r="0.45" fill="#0000ff" opacity="0.35"/>
<circle cx="380.1" cy="339.4" r="4.5" fill="#fff" stroke="#0000ff" stroke-width="0.75" stroke-opacity="0.9"/>
<circle cx="380.1" cy="339.4" r="0.45" fill="#0000ff" opacity="0.35"/>
<circle cx="386.82" cy="346.3" r="4.5" fill="#fff" stroke="#0000ff" stroke-width="0.75" stroke-opacity="0.9"/>
<circle cx="386.82" cy="346.3" r="0.45" fill="#0000ff" opacity="0.35"/>
<circle cx="393.54" cy="344.2" r="4.5" fill="#fff" stroke="#0000ff" stroke-width="0.75" stroke-opacity="0.9"/>
<circle cx="393.54" cy="344.2" r="0.45" fill="#0000ff" opacity="0.35"/>
<circle cx="400.26" cy="344.4" r="4.5" fill="#fff" stroke="#0000ff" stroke-width="0.75" stroke-opacity="0.9"/>
<circle cx="400.26" cy="344.4" r="0.45" fill="#0000ff" opacity="0.35"/>
<circle cx="406.98" cy="344.6" r="4.5" fill="#fff" stroke="#0000ff" stroke-width="0.75" stroke-opacity="0.9"/>
<circle cx="406.98" cy="344.6" r="0.45" fill="#0000ff" opacity="0.35"/>
<circle cx="413.7" cy="344.8" r="4.5" fill="#fff" stroke="#0000ff" stroke-width="0.75" stroke-opacity="0.9"/>
<circle cx="413.7" cy="344.8" r="0.45" fill="#0000ff" opacity="0.35"/>
<circle cx="420.42" cy="345" r="4.5" fill="#fff" stroke="#0000ff" stroke-width="0.75" stroke-opacity="0.9"/>
<circle cx="420.42" cy="345" r="0.45" fill="#0000ff" opacity="0.35"/>
<circle cx="427.14" cy="345.2" r="4.5" fill="#fff" stroke="#0000ff" stroke-width="0.75" stroke-opacity="0.9"/>
<circle cx="427.14" cy="345.2" r="0.45" fill="#0000ff" opacity="0.35"/>
<circle cx="433.86" cy="345.4" r="4.5" fill="#fff" stroke="#0000ff" stroke-width="0.75" stroke-opacity="0.9"/>
<circle cx="433.86" cy="345.4" r="0.45" fill="#0000ff" opacity="0.35"/>
<circle cx="440.58" cy="345.6" r="4.5" fill="#fff" stroke="#0000ff" stroke-width="0.75" stroke-opacity="0.9"/>
<circle cx="440.58" cy="345.6" r="0.45" fill="#0000ff" opacity="0.35"/>
<circle cx="447.3" cy="345.7" r="4.5" fill="#fff" stroke="#0000ff" stroke-width="0.75" stroke-opacity="0.9"/>
<circle cx="447.3" cy="345.7" r="0.45" fill="#0000ff" opacity="0.35"/>
<circle cx="454.02" cy="306.6" r="4.5" fill="#fff" stroke="#0000ff" stroke-width="0.75" stroke-opacity="0.9"/>
<circle cx="454.02" cy="306.6" r="0.45" fill="#0000ff" opacity="0.35"/>
<circle cx="460.74" cy="306.6" r="4.5" fill="#fff" stroke="#0000ff" stroke-width="0.75" stroke-opacity="0.9"/>
<circle cx="460.74" cy="306.6" r="0.45" fill="#0000ff" opacity="0.35"/>
<circle cx="467.46" cy="306.6" r="4.5" fill="#fff" stroke="#0000ff" stroke-width="0.75" stroke-opacity="0.9"/>
<circle cx="467.46" cy="306.6" r="0.45" fill="#0000ff" opacity="0.35"/>
<circle cx="474.18" cy="306.6" r="4.5" fill="#fff" stroke="#0000ff" stroke-width="0.75" stroke-opacity="0.9"/>
<circle cx="474.18" cy="306.6" r="0.45" fill="#0000ff" opacity="0.35"/>
<circle cx="480.9" cy="306.6" r="4.5" fill="#fff" stroke="#0000ff" stroke-width="0.75" stroke-opacity="0.9"/>
<circle cx="480.9" cy="306.6" r="0.45" fill="#0000ff" opacity="0.35"/>
<circle cx="487.62" cy="306.6" r="4.5" fill="#fff" stroke="#0000ff" stroke-width="0.75" stroke-opacity="0.9"/>
<circle cx="487.62" cy="306.6" r="0.45" fill="#0000ff" opacity="0.35"/>
<circle cx="494.34" cy="306.6" r="4.5" fill="#fff" stroke="#0000ff" stroke-width="0.75" stroke-opacity="0.9"/>
<circle cx="494.34" cy="306.6" r="0.45" fill="#0000ff" opacity="0.35"/>
<circle cx="501.06" cy="306.6" r="4.5" fill="#fff" stroke="#0000ff" stroke-width="0.75" stroke-opacity="0.9"/>
<circle cx="501.06" cy="306.6" r="0.45" fill="#0000ff" opacity="0.35"/>
<circle cx="507.78" cy="306.6" r="4.5" fill="#fff" stroke="#0000ff" stroke-width="0.75" stroke-opacity="0.9"/>
<circle cx="507.78" cy="306.6" r="0.45" fill="#0000ff" opacity="0.35"/>
<circle cx="514.5" cy="306.6" r="4.5" fill="#fff" stroke="#0000ff" stroke-width="0.75" stroke-opacity="0.9"/>
<circle cx="514.5" cy="306.6" r="0.45" fill="#0000ff" opacity="0.35"/>
<circle cx="118.02" cy="437.4" r="4.5" fill="#fff" stroke="#008000" stroke-width="0.75" stroke-opacity="0.9"/>
<circle cx="118.02" cy="437.4" r="0.45" fill="#008000" opacity="0.35"/>
<circle cx="131.46" cy="236.1" r="4.5" fill="#fff" stroke="#008000" stroke-width="0.75" stroke-opacity="0.9"/>
<circle cx="131.46" cy="236.1" r="0.45" fill="#008000" opacity="0.35"/>
<circle cx="138.18" cy="242.8" r="4.5" fill="#fff" stroke="#008000" stroke-width="0.75" stroke-opacity="0.9"/>
<circle cx="138.18" cy="242.8" r="0.45" fill="#008000" opacity="0.35"/>
<circle cx="144.9" cy="246.9" r="4.5" fill="#fff" stroke="#008000" stroke-width="0.75" stroke-opacity="0.9"/>
<circle cx="144.9" cy="246.9" r="0.45" fill="#008000" opacity="0.35"/>
<circle cx="151.62" cy="251.5" r="4.5" fill="#fff" stroke="#008000" stroke-width="0.75" stroke-opacity="0.9"/>
<circle cx="151.62" cy="251.5" r="0.45" fill="#008000" opacity="0.35"/>
<circle cx="158.34" cy="257.7" r="4.5" fill="#fff" stroke="#008000" stroke-width="0.75" stroke-opacity="0.9"/>
<circle cx="158.34" cy="257.7" r="0.45" fill="#008000" opacity="0.35"/>
<circle cx="165.06" cy="260.3" r="4.5" fill="#fff" stroke="#008000" stroke-width="0.75" stroke-opacity="0.9"/>
<circle cx="165.06" cy="260.3" r="0.45" fill="#008000" opacity="0.35"/>
<circle cx="171.78" cy="259" r="4.5" fill="#fff" stroke="#008000" stroke-width="0.75" stroke-opacity="0.9"/>
<circle cx="171.78" cy="259" r="0.45" fill="#008000" opacity="0.35"/>
<circle cx="178.5" cy="262.9" r="4.5" fill="#fff" stroke="#008000" stroke-width="0.75" stroke-opacity="0.9"/>
<circle cx="178.5" cy="262.9" r="0.45" fill="#008000" opacity="0.35"/>
<circle cx="185.22" cy="274.5" r="4.5" fill="#fff" stroke="#008000" stroke-width="0.75" stroke-opacity="0.9"/>
<circle cx="185.22" cy="274.5" r="0.45" fill="#008000" opacity="0.35"/>
<circle cx="191.94" cy="276.5" r="4.5" fill="#fff" stroke="#008000" stroke-width="0.75" stroke-opacity="0.9"/>
<circle cx="191.94" cy="276.5" r="0.45" fill="#008000" opacity="0.35"/>
<circle cx="198.66" cy="276.5" r="4.5" fill="#fff" stroke="#008000" stroke-width="0.75" stroke-opacity="0.9"/>
<circle cx="198.66" cy="276.5" r="0.45" fill="#008000" opacity="0.35"/>
<circle cx="205.38" cy="276.5" r="4.5" fill="#fff" stroke="#008000" stroke-width="0.75" stroke-opacity="0.9"/>
<circle cx="205.38" cy="276.5" r="0.45" fill="#008000" opacity="0.35"/>
<circle cx="212.1" cy="276.5" r="4.5" fill="#fff" stroke="#008000" stroke-width="0.75" stroke-opacity="0.9"/>
<circle cx="212.1" cy="276.5" r="0.45" fill="#008000" opacity="0.35"/>
<circle cx="218.82" cy="276.5" r="4.5" fill="#fff" stroke="#008000" stroke-width="0.75" stroke-opacity="0.9"/>
<circle cx="218.82" cy="276.5" r="0.45" fill="#008000" opacity="0.35"/>
<circle cx="225.54" cy="276.5" r="4.5" fill="#fff" stroke="#008000" stroke-width="0.75" stroke-opacity="0.9"/>
<circle cx="225.54" cy="276.5" r="0.45" fill="#008000" opacity="0.35"/>
<circle cx="232.26" cy="276.5" r="4.5" fill="#fff" stroke="#008000" stroke-width="0.75" stroke-opacity="0.9"/>
<circle cx="232.26" cy="276.5" r="0.45" fill="#008000" opacity="0.35"/>
<circle cx="238.98" cy="276.5" r="4.5" fill="#fff" stroke="#008000" stroke-width="0.75" stroke-opacity="0.9"/>
<circle cx="238.98" cy="276.5" r="0.45" fill="#008000" opacity="0.35"/>
<circle cx="245.7" cy="276.5" r="4.5" fill="#fff" stroke="#008000" stroke-width="0.75" stroke-opacity="0.9"/>
<circle cx="245.7" cy="276.5" r="0.45" fill="#008000" opacity="0.35"/>
<circle cx="252.42" cy="298.5" r="4.5" fill="#fff" stroke="#008000" stroke-width="0.75" stroke-opacity="0.9"/>
<circle cx="252.42" cy="298.5" r="0.45" fill="#008000" opacity="0.35"/>
<circle cx="259.14" cy="296.7" r="4.5" fill="#fff" stroke="#008000" stroke-width="0.75" stroke-opacity="0.9"/>
<circle cx="259.14" cy="296.7" r="0.45" fill="#008000" opacity="0.35"/>
<circle cx="265.86" cy="297.8" r="4.5" fill="#fff" stroke="#008000" stroke-width="0.75" stroke-opacity="0.9"/>
<circle cx="265.86" cy="297.8" r="0.45" fill="#008000" opacity="0.35"/>
<circle cx="272.58" cy="298.3" r="4.5" fill="#fff" stroke="#008000" stroke-width="0.75" stroke-opacity="0.9"/>
<circle cx="272.58" cy="298.3" r="0.45" fill="#008000" opacity="0.35"/>
<circle cx="279.3" cy="298.7" r="4.5" fill="#fff" stroke="#008000" stroke-width="0.75" stroke-opacity="0.9"/>
<circle cx="279.3" cy="298.7" r="0.45" fill="#008000" opacity="0.35"/>
<circle cx="286.02" cy="299" r="4.5" fill="#fff" stroke="#008000" stroke-width="0.75" stroke-opacity="0.9"/>
<circle cx="286.02" cy="299" r="0.45" fill="#008000" opacity="0.35"/>
<circle cx="292.74" cy="299.3" r="4.5" fill="#fff" stroke="#008000" stroke-width="0.75" stroke-opacity="0.9"/>
<circle cx="292.74" cy="299.3" r="0.45" fill="#008000" opacity="0.35"/>
<circle cx="299.46" cy="300.2" r="4.5" fill="#fff" stroke="#008000" stroke-width="0.75" stroke-opacity="0.9"/>
<circle cx="299.46" cy="300.2" r="0.45" fill="#008000" opacity="0.35"/>
<circle cx="306.18" cy="300.5" r="4.5" fill="#fff" stroke="#008000" stroke-width="0.75" stroke-opacity="0.9"/>
<circle cx="306.18" cy="300.5" r="0.45" fill="#008000" opacity="0.35"/>
<circle cx="312.9" cy="300.8" r="4.5" fill="#fff" stroke="#008000" stroke-width="0.75" stroke-opacity="0.9"/>
<circle cx="312.9" cy="300.8" r="0.45" fill="#008000" opacity="0.35"/>
<circle cx="319.62" cy="313" r="4.5" fill="#fff" stroke="#008000" stroke-width="0.75" stroke-opacity="0.9"/>
<circle cx="319.62" cy="313" r="0.45" fill="#008000" opacity="0.35"/>
<circle cx="326.34" cy="312.3" r="4.5" fill="#fff" stroke="#008000" stroke-width="0.75" stroke-opacity="0.9"/>
<circle cx="326.34" cy="312.3" r="0.45" fill="#008000" opacity="0.35"/>
<circle cx="333.06" cy="313.8" r="4.5" fill="#fff" stroke="#008000" stroke-width="0.75" stroke-opacity="0.9"/>
<circle cx="333.06" cy="313.8" r="0.45" fill="#008000" opacity="0.35"/>
<circle cx="339.78" cy="314.5" r="4.5" fill="#fff" stroke="#008000" stroke-width="0.75" stroke-opacity="0.9"/>
<circle cx="339.78" cy="314.5" r="0.45" fill="#008000" opacity="0.35"/>
<circle cx="346.5" cy="314.8" r="4.5" fill="#fff" stroke="#008000" stroke-width="0.75" stroke-opacity="0.9"/>
<circle cx="346.5" cy="314.8" r="0.45" fill="#008000" opacity="0.35"/>
<circle cx="353.22" cy="315.1" r="4.5" fill="#fff" stroke="#008000" stroke-width="0.75" stroke-opacity="0.9"/>
<circle cx="353.22" cy="315.1" r="0.45" fill="#008000" opacity="0.35"/>
<circle cx="359.94" cy="315.4" r="4.5" fill="#fff" stroke="#008000" stroke-width="0.75" stroke-opacity="0.9"/>
<circle cx="359.94" cy="315.4" r="0.45" fill="#008000" opacity="0.35"/>
<circle cx="366.66" cy="315.7" r="4.5" fill="#fff" stroke="#008000" stroke-width="0.75" stroke-opacity="0.9"/>
<circle cx="366.66" cy="315.7" r="0.45" fill="#008000" opacity="0.35"/>
<circle cx="373.38" cy="316.1" r="4.5" fill="#fff" stroke="#008000" stroke-width="0.75" stroke-opacity="0.9"/>
<circle cx="373.38" cy="316.1" r="0.45" fill="#008000" opacity="0.35"/>
<circle cx="380.1" cy="316.5" r="4.5" fill="#fff" stroke="#008000" stroke-width="0.75" stroke-opacity="0.9"/>
<circle cx="380.1" cy="316.5" r="0.45" fill="#008000" opacity="0.35"/>
<circle cx="386.82" cy="328.8" r="4.5" fill="#fff" stroke="#008000" stroke-width="0.75" stroke-opacity="0.9"/>
<circle cx="386.82" cy="328.8" r="0.45" fill="#008000" opacity="0.35"/>
<circle cx="393.54" cy="327.5" r="4.5" fill="#fff" stroke="#008000" stroke-width="0.75" stroke-opacity="0.9"/>
<circle cx="393.54" cy="327.5" r="0.45" fill="#008000" opacity="0.35"/>
<circle cx="400.26" cy="328" r="4.5" fill="#fff" stroke="#008000" stroke-width="0.75" stroke-opacity="0.9"/>
<circle cx="400.26" cy="328" r="0.45" fill="#008000" opacity="0.35"/>
<circle cx="406.98" cy="328.5" r="4.5" fill="#fff" stroke="#008000" stroke-width="0.75" stroke-opacity="0.9"/>
<circle cx="406.98" cy="328.5" r="0.45" fill="#008000" opacity="0.35"/>
<circle cx="413.7" cy="328.8" r="4.5" fill="#fff" stroke="#008000" stroke-width="0.75" stroke-opacity="0.9"/>
<circle cx="413.7" cy="328.8" r="0.45" fill="#008000" opacity="0.35"/>
<circle cx="420.42" cy="329.1" r="4.5" fill="#fff" stroke="#008000" stroke-width="0.75" stroke-opacity="0.9"/>
<circle cx="420.42" cy="329.1" r="0.45" fill="#008000" opacity="0.35"/>
<circle cx="427.14" cy="329.4" r="4.5" fill="#fff" stroke="#008000" stroke-width="0.75" stroke-opacity="0.9"/>
<circle cx="427.14" cy="329.4" r="0.45" fill="#008000" opacity="0.35"/>
<circle cx="433.86" cy="329.7" r="4.5" fill="#fff" stroke="#008000" stroke-width="0.75" stroke-opacity="0.9"/>
<circle cx="433.86" cy="329.7" r="0.45" fill="#008000" opacity="0.35"/>
<circle cx="440.58" cy="330" r="4.5" fill="#fff" stroke="#008000" stroke-width="0.75" stroke-opacity="0.9"/>
<circle cx="440.58" cy="330" r="0.45" fill="#008000" opacity="0.35"/>
<circle cx="447.3" cy="330" r="4.5" fill="#fff" stroke="#008000" stroke-width="0.75" stroke-opacity="0.9"/>
<circle cx="447.3" cy="330" r="0.45" fill="#008000" opacity="0.35"/>
<circle cx="454.02" cy="272.3" r="4.5" fill="#fff" stroke="#008000" stroke-width="0.75" stroke-opacity="0.9"/>
<circle cx="454.02" cy="272.3" r="0.45" fill="#008000" opacity="0.35"/>
<circle cx="460.74" cy="273.6" r="4.5" fill="#fff" stroke="#008000" stroke-width="0.75" stroke-opacity="0.9"/>
<circle cx="460.74" cy="273.6" r="0.45" fill="#008000" opacity="0.35"/>
<circle cx="467.46" cy="273.6" r="4.5" fill="#fff" stroke="#008000" stroke-width="0.75" stroke-opacity="0.9"/>
<circle cx="467.46" cy="273.6" r="0.45" fill="#008000" opacity="0.35"/>
<circle cx="474.18" cy="273.6" r="4.5" fill="#fff" stroke="#008000" stroke-width="0.75" stroke-opacity="0.9"/>
<circle cx="474.18" cy="273.6" r="0.45" fill="#008000" opacity="0.35"/>
<circle cx="480.9" cy="273.6" r="4.5" fill="#fff" stroke="#008000" stroke-width="0.75" stroke-opacity="0.9"/>
<circle cx="480.9" cy="273.6" r="0.45" fill="#008000" opacity="0.35"/>
<circle cx="487.62" cy="273.6" r="4.5" fill="#fff" stroke="#008000" stroke-width="0.75" stroke-opacity="0.9"/>
<circle cx="487.62" cy="273.6" r="0.45" fill="#008000" opacity="0.35"/>
<circle cx="494.34" cy="273.6" r="4.5" fill="#fff" stroke="#008000" stroke-width="0.75" stroke-opacity="0.9"/>
<circle cx="494.34" cy="273.6" r="0.45" fill="#008000" opacity="0.35"/>
<circle cx="501.06" cy="273.6" r="4.5" fill="#fff" stroke="#008000" stroke-width="0.75" stroke-opacity="0.9"/>
<circle cx="501.06" cy="273.6" r="0.45" fill="#008000" opacity="0.35"/>
<circle cx="507.78" cy="273.6" r="4.5" fill="#fff" stroke="#008000" stroke-width="0.75" stroke-opacity="0.9"/>
<circle cx="507.78" cy="273.6" r="0.45" fill="#008000" opacity="0.35"/>
</g>
<circle cx="118.02" cy="136.8" r="4.6" fill="url(#ballk)"/>
<circle cx="124.74" cy="296.2" r="4.6" fill="url(#ballk)"/>
<circle cx="131.46" cy="312.8" r="4.6" fill="url(#ballk)"/>
<circle cx="138.18" cy="320.2" r="4.6" fill="url(#ballk)"/>
<circle cx="144.9" cy="325.2" r="4.6" fill="url(#ballk)"/>
<circle cx="151.62" cy="328.5" r="4.6" fill="url(#ballk)"/>
<circle cx="158.34" cy="330.3" r="4.6" fill="url(#ballk)"/>
<circle cx="165.06" cy="330.9" r="4.6" fill="url(#ballk)"/>
<circle cx="171.78" cy="333.1" r="4.6" fill="url(#ballk)"/>
<circle cx="178.5" cy="335" r="4.6" fill="url(#ballk)"/>
<circle cx="185.22" cy="343.7" r="4.6" fill="url(#ballk)"/>
<circle cx="191.94" cy="346.1" r="4.6" fill="url(#ballk)"/>
<circle cx="198.66" cy="346.1" r="4.6" fill="url(#ballk)"/>
<circle cx="205.38" cy="346.6" r="4.6" fill="url(#ballk)"/>
<circle cx="212.1" cy="347.1" r="4.6" fill="url(#ballk)"/>
<circle cx="218.82" cy="347.6" r="4.6" fill="url(#ballk)"/>
<circle cx="225.54" cy="347.6" r="4.6" fill="url(#ballk)"/>
<circle cx="232.26" cy="348.1" r="4.6" fill="url(#ballk)"/>
<circle cx="238.98" cy="347.1" r="4.6" fill="url(#ballk)"/>
<circle cx="245.7" cy="346.6" r="4.6" fill="url(#ballk)"/>
<circle cx="252.42" cy="358" r="4.6" fill="url(#ballk)"/>
<circle cx="259.14" cy="360.2" r="4.6" fill="url(#ballk)"/>
<circle cx="265.86" cy="359.8" r="4.6" fill="url(#ballk)"/>
<circle cx="272.58" cy="360" r="4.6" fill="url(#ballk)"/>
<circle cx="279.3" cy="360.2" r="4.6" fill="url(#ballk)"/>
<circle cx="286.02" cy="360.4" r="4.6" fill="url(#ballk)"/>
<circle cx="292.74" cy="360.4" r="4.6" fill="url(#ballk)"/>
<circle cx="299.46" cy="360.6" r="4.6" fill="url(#ballk)"/>
<circle cx="306.18" cy="360.6" r="4.6" fill="url(#ballk)"/>
<circle cx="312.9" cy="360.8" r="4.6" fill="url(#ballk)"/>
<circle cx="319.62" cy="365" r="4.6" fill="url(#ballk)"/>
<circle cx="326.34" cy="365" r="4.6" fill="url(#ballk)"/>
<circle cx="333.06" cy="365.2" r="4.6" fill="url(#ballk)"/>
<circle cx="339.78" cy="365.3" r="4.6" fill="url(#ballk)"/>
<circle cx="346.5" cy="365.4" r="4.6" fill="url(#ballk)"/>
<circle cx="353.22" cy="365.5" r="4.6" fill="url(#ballk)"/>
<circle cx="359.94" cy="365.6" r="4.6" fill="url(#ballk)"/>
<circle cx="366.66" cy="365.7" r="4.6" fill="url(#ballk)"/>
<circle cx="373.38" cy="365.8" r="4.6" fill="url(#ballk)"/>
<circle cx="380.1" cy="365.8" r="4.6" fill="url(#ballk)"/>
<circle cx="386.82" cy="369.8" r="4.6" fill="url(#ballk)"/>
<circle cx="393.54" cy="369.8" r="4.6" fill="url(#ballk)"/>
<circle cx="400.26" cy="370" r="4.6" fill="url(#ballk)"/>
<circle cx="406.98" cy="370.2" r="4.6" fill="url(#ballk)"/>
<circle cx="413.7" cy="370.4" r="4.6" fill="url(#ballk)"/>
<circle cx="420.42" cy="370.6" r="4.6" fill="url(#ballk)"/>
<circle cx="427.14" cy="370.8" r="4.6" fill="url(#ballk)"/>
<circle cx="433.86" cy="371" r="4.6" fill="url(#ballk)"/>
<circle cx="440.58" cy="371.1" r="4.6" fill="url(#ballk)"/>
<circle cx="447.3" cy="371.1" r="4.6" fill="url(#ballk)"/>
<circle cx="454.02" cy="344.2" r="4.6" fill="url(#ballk)"/>
<circle cx="460.74" cy="336.8" r="4.6" fill="url(#ballk)"/>
<circle cx="467.46" cy="337" r="4.6" fill="url(#ballk)"/>
<circle cx="474.18" cy="337.3" r="4.6" fill="url(#ballk)"/>
<circle cx="480.9" cy="337.5" r="4.6" fill="url(#ballk)"/>
<circle cx="487.62" cy="337.8" r="4.6" fill="url(#ballk)"/>
<circle cx="494.34" cy="338" r="4.6" fill="url(#ballk)"/>
<circle cx="501.06" cy="340.5" r="4.6" fill="url(#ballk)"/>
<circle cx="507.78" cy="343" r="4.6" fill="url(#ballk)"/>
<circle cx="514.5" cy="343.6" r="4.6" fill="url(#ballk)"/>
<circle cx="118.02" cy="59.9" r="4.6" fill="url(#ballb)"/>
<circle cx="124.74" cy="225.5" r="4.6" fill="url(#ballb)"/>
<circle cx="131.46" cy="250.8" r="4.6" fill="url(#ballb)"/>
<circle cx="138.18" cy="262.4" r="4.6" fill="url(#ballb)"/>
<circle cx="144.9" cy="270.1" r="4.6" fill="url(#ballb)"/>
<circle cx="151.62" cy="274" r="4.6" fill="url(#ballb)"/>
<circle cx="158.34" cy="278.4" r="4.6" fill="url(#ballb)"/>
<circle cx="165.06" cy="281.5" r="4.6" fill="url(#ballb)"/>
<circle cx="171.78" cy="283" r="4.6" fill="url(#ballb)"/>
<circle cx="178.5" cy="287.4" r="4.6" fill="url(#ballb)"/>
<circle cx="185.22" cy="298.5" r="4.6" fill="url(#ballb)"/>
<circle cx="191.94" cy="302.4" r="4.6" fill="url(#ballb)"/>
<circle cx="198.66" cy="303.3" r="4.6" fill="url(#ballb)"/>
<circle cx="205.38" cy="304" r="4.6" fill="url(#ballb)"/>
<circle cx="212.1" cy="304.5" r="4.6" fill="url(#ballb)"/>
<circle cx="218.82" cy="305" r="4.6" fill="url(#ballb)"/>
<circle cx="225.54" cy="305.3" r="4.6" fill="url(#ballb)"/>
<circle cx="232.26" cy="305.6" r="4.6" fill="url(#ballb)"/>
<circle cx="238.98" cy="307.2" r="4.6" fill="url(#ballb)"/>
<circle cx="245.7" cy="305" r="4.6" fill="url(#ballb)"/>
<circle cx="252.42" cy="316.8" r="4.6" fill="url(#ballb)"/>
<circle cx="259.14" cy="320.8" r="4.6" fill="url(#ballb)"/>
<circle cx="265.86" cy="321.6" r="4.6" fill="url(#ballb)"/>
<circle cx="272.58" cy="322.3" r="4.6" fill="url(#ballb)"/>
<circle cx="279.3" cy="322.9" r="4.6" fill="url(#ballb)"/>
<circle cx="286.02" cy="323.4" r="4.6" fill="url(#ballb)"/>
<circle cx="292.74" cy="323.9" r="4.6" fill="url(#ballb)"/>
<circle cx="299.46" cy="324.4" r="4.6" fill="url(#ballb)"/>
<circle cx="306.18" cy="325" r="4.6" fill="url(#ballb)"/>
<circle cx="312.9" cy="325.5" r="4.6" fill="url(#ballb)"/>
<circle cx="319.62" cy="332" r="4.6" fill="url(#ballb)"/>
<circle cx="326.34" cy="333.7" r="4.6" fill="url(#ballb)"/>
<circle cx="333.06" cy="334.3" r="4.6" fill="url(#ballb)"/>
<circle cx="339.78" cy="334.9" r="4.6" fill="url(#ballb)"/>
<circle cx="346.5" cy="335.5" r="4.6" fill="url(#ballb)"/>
<circle cx="353.22" cy="336.1" r="4.6" fill="url(#ballb)"/>
<circle cx="359.94" cy="336.6" r="4.6" fill="url(#ballb)"/>
<circle cx="366.66" cy="337.1" r="4.6" fill="url(#ballb)"/>
<circle cx="373.38" cy="337.5" r="4.6" fill="url(#ballb)"/>
<circle cx="380.1" cy="337.9" r="4.6" fill="url(#ballb)"/>
<circle cx="386.82" cy="342.3" r="4.6" fill="url(#ballb)"/>
<circle cx="393.54" cy="343.4" r="4.6" fill="url(#ballb)"/>
<circle cx="400.26" cy="343.6" r="4.6" fill="url(#ballb)"/>
<circle cx="406.98" cy="343.8" r="4.6" fill="url(#ballb)"/>
<circle cx="413.7" cy="344" r="4.6" fill="url(#ballb)"/>
<circle cx="420.42" cy="344.2" r="4.6" fill="url(#ballb)"/>
<circle cx="427.14" cy="344.4" r="4.6" fill="url(#ballb)"/>
<circle cx="433.86" cy="344.6" r="4.6" fill="url(#ballb)"/>
<circle cx="440.58" cy="344.8" r="4.6" fill="url(#ballb)"/>
<circle cx="447.3" cy="344.9" r="4.6" fill="url(#ballb)"/>
<circle cx="454.02" cy="300.7" r="4.6" fill="url(#ballb)"/>
<circle cx="460.74" cy="300.7" r="4.6" fill="url(#ballb)"/>
<circle cx="467.46" cy="300.7" r="4.6" fill="url(#ballb)"/>
<circle cx="474.18" cy="300.7" r="4.6" fill="url(#ballb)"/>
<circle cx="480.9" cy="300.7" r="4.6" fill="url(#ballb)"/>
<circle cx="487.62" cy="300.7" r="4.6" fill="url(#ballb)"/>
<circle cx="494.34" cy="300.7" r="4.6" fill="url(#ballb)"/>
<circle cx="501.06" cy="300.7" r="4.6" fill="url(#ballb)"/>
<circle cx="507.78" cy="300.7" r="4.6" fill="url(#ballb)"/>
<circle cx="514.5" cy="300.7" r="4.6" fill="url(#ballb)"/>
<circle cx="118.02" cy="49.4" r="4.6" fill="url(#ballg)"/>
<circle cx="124.74" cy="177.8" r="4.6" fill="url(#ballg)"/>
<circle cx="131.46" cy="210.9" r="4.6" fill="url(#ballg)"/>
<circle cx="138.18" cy="222.1" r="4.6" fill="url(#ballg)"/>
<circle cx="144.9" cy="230.7" r="4.6" fill="url(#ballg)"/>
<circle cx="151.62" cy="238.6" r="4.6" fill="url(#ballg)"/>
<circle cx="158.34" cy="243.5" r="4.6" fill="url(#ballg)"/>
<circle cx="165.06" cy="249.2" r="4.6" fill="url(#ballg)"/>
<circle cx="171.78" cy="247.4" r="4.6" fill="url(#ballg)"/>
<circle cx="178.5" cy="251.5" r="4.6" fill="url(#ballg)"/>
<circle cx="185.22" cy="266.6" r="4.6" fill="url(#ballg)"/>
<circle cx="191.94" cy="269.4" r="4.6" fill="url(#ballg)"/>
<circle cx="198.66" cy="270.7" r="4.6" fill="url(#ballg)"/>
<circle cx="205.38" cy="271.4" r="4.6" fill="url(#ballg)"/>
<circle cx="212.1" cy="272.3" r="4.6" fill="url(#ballg)"/>
<circle cx="218.82" cy="272.3" r="4.6" fill="url(#ballg)"/>
<circle cx="225.54" cy="272.3" r="4.6" fill="url(#ballg)"/>
<circle cx="232.26" cy="272" r="4.6" fill="url(#ballg)"/>
<circle cx="238.98" cy="272.3" r="4.6" fill="url(#ballg)"/>
<circle cx="245.7" cy="271.7" r="4.6" fill="url(#ballg)"/>
<circle cx="252.42" cy="291.7" r="4.6" fill="url(#ballg)"/>
<circle cx="259.14" cy="294.7" r="4.6" fill="url(#ballg)"/>
<circle cx="265.86" cy="295.8" r="4.6" fill="url(#ballg)"/>
<circle cx="272.58" cy="296.3" r="4.6" fill="url(#ballg)"/>
<circle cx="279.3" cy="296.7" r="4.6" fill="url(#ballg)"/>
<circle cx="286.02" cy="297" r="4.6" fill="url(#ballg)"/>
<circle cx="292.74" cy="297.3" r="4.6" fill="url(#ballg)"/>
<circle cx="299.46" cy="298.2" r="4.6" fill="url(#ballg)"/>
<circle cx="306.18" cy="298.5" r="4.6" fill="url(#ballg)"/>
<circle cx="312.9" cy="298.8" r="4.6" fill="url(#ballg)"/>
<circle cx="319.62" cy="309.1" r="4.6" fill="url(#ballg)"/>
<circle cx="326.34" cy="310.8" r="4.6" fill="url(#ballg)"/>
<circle cx="333.06" cy="312.3" r="4.6" fill="url(#ballg)"/>
<circle cx="339.78" cy="313" r="4.6" fill="url(#ballg)"/>
<circle cx="346.5" cy="313.3" r="4.6" fill="url(#ballg)"/>
<circle cx="353.22" cy="313.6" r="4.6" fill="url(#ballg)"/>
<circle cx="359.94" cy="313.9" r="4.6" fill="url(#ballg)"/>
<circle cx="366.66" cy="314.2" r="4.6" fill="url(#ballg)"/>
<circle cx="373.38" cy="314.6" r="4.6" fill="url(#ballg)"/>
<circle cx="380.1" cy="315" r="4.6" fill="url(#ballg)"/>
<circle cx="386.82" cy="324.8" r="4.6" fill="url(#ballg)"/>
<circle cx="393.54" cy="326" r="4.6" fill="url(#ballg)"/>
<circle cx="400.26" cy="326.5" r="4.6" fill="url(#ballg)"/>
<circle cx="406.98" cy="327" r="4.6" fill="url(#ballg)"/>
<circle cx="413.7" cy="327.3" r="4.6" fill="url(#ballg)"/>
<circle cx="420.42" cy="327.6" r="4.6" fill="url(#ballg)"/>
<circle cx="427.14" cy="327.9" r="4.6" fill="url(#ballg)"/>
<circle cx="433.86" cy="328.2" r="4.6" fill="url(#ballg)"/>
<circle cx="440.58" cy="328.5" r="4.6" fill="url(#ballg)"/>
<circle cx="447.3" cy="328.5" r="4.6" fill="url(#ballg)"/>
<circle cx="454.02" cy="274.6" r="4.6" fill="url(#ballg)"/>
<circle cx="460.74" cy="264.1" r="4.6" fill="url(#ballg)"/>
<circle cx="467.46" cy="265.6" r="4.6" fill="url(#ballg)"/>
<circle cx="474.18" cy="266.5" r="4.6" fill="url(#ballg)"/>
<circle cx="480.9" cy="265" r="4.6" fill="url(#ballg)"/>
<circle cx="487.62" cy="266.5" r="4.6" fill="url(#ballg)"/>
<circle cx="494.34" cy="267" r="4.6" fill="url(#ballg)"/>
<circle cx="501.06" cy="269.4" r="4.6" fill="url(#ballg)"/>
<circle cx="507.78" cy="268.8" r="4.6" fill="url(#ballg)"/>
<circle cx="514.5" cy="266.5" r="4.6" fill="url(#ballg)"/>
<text x="126.2" y="201.2" font-size="19" font-weight="bold" font-family="'Liberation Sans', Arial, sans-serif" fill="#000">0.05 Ag<tspan dy="-9.2" font-size="11.8">-1</tspan></text>
<text x="190.8" y="254.9" font-size="19" font-weight="bold" font-family="'Liberation Sans', Arial, sans-serif" fill="#000">0.1 Ag<tspan dy="-9.2" font-size="11.8">-1</tspan></text>
<text x="259.8" y="282.5" font-size="19" font-weight="bold" font-family="'Liberation Sans', Arial, sans-serif" fill="#000">0.25 Ag<tspan dy="-9.2" font-size="11.8">-1</tspan></text>
<text x="328.6" y="300.4" font-size="19" font-weight="bold" font-family="'Liberation Sans', Arial, sans-serif" fill="#000">0.5 Ag<tspan dy="-9.2" font-size="11.8">-1</tspan></text>
<text x="398" y="313.5" font-size="19" font-weight="bold" font-family="'Liberation Sans', Arial, sans-serif" fill="#000">1 Ag<tspan dy="-9.2" font-size="11.8">-1</tspan></text>
<text x="444.8" y="250.5" font-size="19" font-weight="bold" font-family="'Liberation Sans', Arial, sans-serif" fill="#000">0.05 Ag<tspan dy="-9.2" font-size="11.8">-1</tspan></text>
<text x="519.4" y="259.2" font-size="24.5" text-anchor="start" fill="#008000" font-weight="bold" font-family="'Liberation Sans', Arial, sans-serif" textLength="57.5" lengthAdjust="spacingAndGlyphs">N-Ca</text>
<text x="517.1" y="295.5" font-size="24.5" text-anchor="start" fill="#0000ff" font-weight="bold" font-family="'Liberation Sans', Arial, sans-serif" textLength="62.7" lengthAdjust="spacingAndGlyphs">N-Cw</text>
<text x="520.9" y="337.6" font-size="24.5" text-anchor="start" fill="#000000" font-weight="bold" font-family="'Liberation Sans', Arial, sans-serif" textLength="40.6" lengthAdjust="spacingAndGlyphs">N-C</text>
<rect x="719.9" y="23.2" width="481.5" height="384" fill="none" stroke="#000" stroke-width="1.5"/>
<line x1="711.9" y1="407.2" x2="719.9" y2="407.2" stroke="#000" stroke-width="1.5"/>
<text x="708.4" y="414.1" font-size="23.5" text-anchor="end" fill="#000" font-weight="bold" font-family="'Liberation Sans', Arial, sans-serif">0</text>
<line x1="711.9" y1="333.35" x2="719.9" y2="333.35" stroke="#000" stroke-width="1.5"/>
<text x="708.4" y="340.25" font-size="23.5" text-anchor="end" fill="#000" font-weight="bold" font-family="'Liberation Sans', Arial, sans-serif">50</text>
<line x1="711.9" y1="259.5" x2="719.9" y2="259.5" stroke="#000" stroke-width="1.5"/>
<text x="708.4" y="266.4" font-size="23.5" text-anchor="end" fill="#000" font-weight="bold" font-family="'Liberation Sans', Arial, sans-serif">100</text>
<line x1="711.9" y1="185.65" x2="719.9" y2="185.65" stroke="#000" stroke-width="1.5"/>
<text x="708.4" y="192.55" font-size="23.5" text-anchor="end" fill="#000" font-weight="bold" font-family="'Liberation Sans', Arial, sans-serif">150</text>
<line x1="711.9" y1="111.8" x2="719.9" y2="111.8" stroke="#000" stroke-width="1.5"/>
<text x="708.4" y="118.7" font-size="23.5" text-anchor="end" fill="#000" font-weight="bold" font-family="'Liberation Sans', Arial, sans-serif">200</text>
<line x1="711.9" y1="37.95" x2="719.9" y2="37.95" stroke="#000" stroke-width="1.5"/>
<text x="708.4" y="44.85" font-size="23.5" text-anchor="end" fill="#000" font-weight="bold" font-family="'Liberation Sans', Arial, sans-serif">250</text>
<line x1="715.4" y1="370.27" x2="719.9" y2="370.27" stroke="#000" stroke-width="1.5"/>
<line x1="715.4" y1="296.42" x2="719.9" y2="296.42" stroke="#000" stroke-width="1.5"/>
<line x1="715.4" y1="222.57" x2="719.9" y2="222.57" stroke="#000" stroke-width="1.5"/>
<line x1="715.4" y1="148.72" x2="719.9" y2="148.72" stroke="#000" stroke-width="1.5"/>
<line x1="715.4" y1="74.87" x2="719.9" y2="74.87" stroke="#000" stroke-width="1.5"/>
<line x1="733.3" y1="407.2" x2="733.3" y2="415.2" stroke="#000" stroke-width="1.5"/>
<text x="733.3" y="437.8" font-size="23.5" text-anchor="middle" fill="#000" font-weight="bold" font-family="'Liberation Sans', Arial, sans-serif">0.0</text>
<line x1="825.04" y1="407.2" x2="825.04" y2="415.2" stroke="#000" stroke-width="1.5"/>
<text x="825.04" y="437.8" font-size="23.5" text-anchor="middle" fill="#000" font-weight="bold" font-family="'Liberation Sans', Arial, sans-serif">0.2</text>
<line x1="916.78" y1="407.2" x2="916.78" y2="415.2" stroke="#000" stroke-width="1.5"/>
<text x="916.78" y="437.8" font-size="23.5" text-anchor="middle" fill="#000" font-weight="bold" font-family="'Liberation Sans', Arial, sans-serif">0.4</text>
<line x1="1008.52" y1="407.2" x2="1008.52" y2="415.2" stroke="#000" stroke-width="1.5"/>
<text x="1008.52" y="437.8" font-size="23.5" text-anchor="middle" fill="#000" font-weight="bold" font-family="'Liberation Sans', Arial, sans-serif">0.6</text>
<line x1="1100.26" y1="407.2" x2="1100.26" y2="415.2" stroke="#000" stroke-width="1.5"/>
<text x="1100.26" y="437.8" font-size="23.5" text-anchor="middle" fill="#000" font-weight="bold" font-family="'Liberation Sans', Arial, sans-serif">0.8</text>
<line x1="1192" y1="407.2" x2="1192" y2="415.2" stroke="#000" stroke-width="1.5"/>
<text x="1192" y="437.8" font-size="23.5" text-anchor="middle" fill="#000" font-weight="bold" font-family="'Liberation Sans', Arial, sans-serif">1.0</text>
<line x1="779.17" y1="407.2" x2="779.17" y2="411.7" stroke="#000" stroke-width="1.5"/>
<line x1="870.91" y1="407.2" x2="870.91" y2="411.7" stroke="#000" stroke-width="1.5"/>
<line x1="962.65" y1="407.2" x2="962.65" y2="411.7" stroke="#000" stroke-width="1.5"/>
<line x1="1054.39" y1="407.2" x2="1054.39" y2="411.7" stroke="#000" stroke-width="1.5"/>
<line x1="1146.13" y1="407.2" x2="1146.13" y2="411.7" stroke="#000" stroke-width="1.5"/>
<text transform="translate(804.8,474.7) scale(1.01,1)" x="0" y="0" font-size="29.5" font-weight="bold" font-family="'Liberation Sans', Arial, sans-serif" fill="#000">Current density (A g<tspan dx="1" dy="-14.5" font-size="16.5">-1</tspan><tspan dy="14.5">)</tspan></text>
<text transform="translate(655.3,334.5) rotate(-90)" x="0" y="0" font-size="26.8" font-weight="bold" font-family="'Liberation Sans', Arial, sans-serif" fill="#000">Capacity (mA h g<tspan dy="-13" font-size="15.5">-1</tspan><tspan dy="13">)</tspan></text>
<polyline points="756.23,199.09 779.17,216.08 847.97,243.4 962.65,253.44 1192,264.08" fill="none" stroke="#000000" stroke-width="3.3" stroke-linejoin="round" stroke-linecap="round"/>
<polyline points="756.23,113.42 779.17,120.37 847.97,160.25 962.65,182.4 1192,208.25" fill="none" stroke="#0000ff" stroke-width="3.3" stroke-linejoin="round" stroke-linecap="round"/>
<polyline points="756.23,42.38 779.17,52.28 847.97,106.34 962.65,136.61 1192,169.99" fill="none" stroke="#008000" stroke-width="3.3" stroke-linejoin="round" stroke-linecap="round"/>
<circle cx="756.23" cy="199.09" r="4.35" fill="#000"/>
<circle cx="779.17" cy="216.08" r="4.35" fill="#000"/>
<circle cx="847.97" cy="243.4" r="4.35" fill="#000"/>
<circle cx="962.65" cy="253.44" r="4.35" fill="#000"/>
<circle cx="1192" cy="264.08" r="4.35" fill="#000"/>
<circle cx="756.23" cy="113.42" r="4.35" fill="url(#ballb)"/>
<circle cx="779.17" cy="120.37" r="4.35" fill="url(#ballb)"/>
<circle cx="847.97" cy="160.25" r="4.35" fill="url(#ballb)"/>
<circle cx="962.65" cy="182.4" r="4.35" fill="url(#ballb)"/>
<circle cx="1192" cy="208.25" r="4.35" fill="url(#ballb)"/>
<circle cx="756.23" cy="42.38" r="4.35" fill="url(#ballg)"/>
<circle cx="779.17" cy="52.28" r="4.35" fill="url(#ballg)"/>
<circle cx="847.97" cy="106.34" r="4.35" fill="url(#ballg)"/>
<circle cx="962.65" cy="136.61" r="4.35" fill="url(#ballg)"/>
<circle cx="1192" cy="169.99" r="4.35" fill="url(#ballg)"/>
<line x1="760.82" y1="345.99" x2="774.58" y2="353.35" stroke="#000000" stroke-width="2.6"/>
<line x1="784.33" y1="356.43" x2="842.81" y2="363.59" stroke="#000000" stroke-width="2.6"/>
<line x1="853.17" y1="364.42" x2="957.45" y2="368.45" stroke="#000000" stroke-width="2.6"/>
<line x1="967.85" y1="368.72" x2="1186.8" y2="371.83" stroke="#000000" stroke-width="2.6"/>
<polygon points="756.23,338.54 757.47,341.84 760.99,342 758.23,344.19 759.17,347.59 756.23,345.64 753.3,347.59 754.24,344.19 751.48,342 755,341.84" fill="#000000"/>
<polygon points="779.17,350.8 780.4,354.1 783.93,354.26 781.17,356.45 782.11,359.85 779.17,357.9 776.23,359.85 777.17,356.45 774.41,354.26 777.94,354.1" fill="#000000"/>
<polygon points="847.97,359.22 849.21,362.52 852.73,362.67 849.97,364.87 850.91,368.26 847.97,366.32 845.04,368.26 845.98,364.87 843.22,362.67 846.74,362.52" fill="#000000"/>
<polygon points="962.65,363.65 963.88,366.95 967.41,367.11 964.65,369.3 965.59,372.7 962.65,370.75 959.71,372.7 960.65,369.3 957.89,367.11 961.42,366.95" fill="#000000"/>
<polygon points="1192,366.9 1193.23,370.2 1196.76,370.35 1194,372.55 1194.94,375.94 1192,374 1189.06,375.94 1190,372.55 1187.24,370.35 1190.77,370.2" fill="#000000"/>
<line x1="760.87" y1="326.55" x2="774.54" y2="333.5" stroke="#0000ff" stroke-width="2.6"/>
<line x1="784.17" y1="337.28" x2="842.97" y2="353.94" stroke="#0000ff" stroke-width="2.6"/>
<line x1="853.17" y1="355.42" x2="957.45" y2="356.77" stroke="#0000ff" stroke-width="2.6"/>
<line x1="967.85" y1="356.95" x2="1186.8" y2="362.03" stroke="#0000ff" stroke-width="2.6"/>
<polygon points="756.23,319.19 757.47,322.49 760.99,322.65 758.23,324.84 759.17,328.24 756.23,326.29 753.3,328.24 754.24,324.84 751.48,322.65 755,322.49" fill="#0000ff"/>
<polygon points="779.17,330.86 780.4,334.16 783.93,334.32 781.17,336.51 782.11,339.91 779.17,337.96 776.23,339.91 777.17,336.51 774.41,334.32 777.94,334.16" fill="#0000ff"/>
<polygon points="847.97,350.36 849.21,353.66 852.73,353.81 849.97,356.01 850.91,359.4 847.97,357.46 845.04,359.4 845.98,356.01 843.22,353.81 846.74,353.66" fill="#0000ff"/>
<polygon points="962.65,351.83 963.88,355.14 967.41,355.29 964.65,357.48 965.59,360.88 962.65,358.93 959.71,360.88 960.65,357.48 957.89,355.29 961.42,355.14" fill="#0000ff"/>
<polygon points="1192,357.15 1193.23,360.45 1196.76,360.61 1194,362.8 1194.94,366.2 1192,364.25 1189.06,366.2 1190,362.8 1187.24,360.61 1190.77,360.45" fill="#0000ff"/>
<line x1="760.99" y1="298.54" x2="774.42" y2="304.5" stroke="#008000" stroke-width="2.6"/>
<line x1="784.02" y1="308.49" x2="843.12" y2="331.33" stroke="#008000" stroke-width="2.6"/>
<line x1="853.14" y1="333.79" x2="957.48" y2="345.61" stroke="#008000" stroke-width="2.6"/>
<line x1="967.84" y1="346.43" x2="1186.81" y2="356.3" stroke="#008000" stroke-width="2.6"/>
<polygon points="756.23,291.42 757.47,294.73 760.99,294.88 758.23,297.07 759.17,300.47 756.23,298.52 753.3,300.47 754.24,297.07 751.48,294.88 755,294.73" fill="#008000"/>
<polygon points="779.17,301.62 780.4,304.92 783.93,305.07 781.17,307.27 782.11,310.66 779.17,308.72 776.23,310.66 777.17,307.27 774.41,305.07 777.94,304.92" fill="#008000"/>
<polygon points="847.97,328.2 849.21,331.5 852.73,331.66 849.97,333.85 850.91,337.25 847.97,335.3 845.04,337.25 845.98,333.85 843.22,331.66 846.74,331.5" fill="#008000"/>
<polygon points="962.65,341.2 963.88,344.5 967.41,344.65 964.65,346.85 965.59,350.24 962.65,348.3 959.71,350.24 960.65,346.85 957.89,344.65 961.42,344.5" fill="#008000"/>
<polygon points="1192,351.54 1193.23,354.84 1196.76,354.99 1194,357.19 1194.94,360.58 1192,358.64 1189.06,360.58 1190,357.19 1187.24,354.99 1190.77,354.84" fill="#008000"/>
<text x="891.3" y="85.7" font-size="22.6" text-anchor="start" fill="#000" font-weight="bold" font-family="'Liberation Sans', Arial, sans-serif" textLength="144.7" lengthAdjust="spacingAndGlyphs">total capacity</text>
<text x="812.3" y="312.4" font-size="22.7" text-anchor="start" fill="#000" font-weight="bold" font-family="'Liberation Sans', Arial, sans-serif" textLength="349" lengthAdjust="spacingAndGlyphs">capacity at potential below 0.2 V</text>
<text x="1131.1" y="149.8" font-size="24.5" text-anchor="start" fill="#008000" font-weight="bold" font-family="'Liberation Sans', Arial, sans-serif" textLength="56.6" lengthAdjust="spacingAndGlyphs">N-Ca</text>
<text x="1131.1" y="195.9" font-size="24.5" text-anchor="start" fill="#0000ff" font-weight="bold" font-family="'Liberation Sans', Arial, sans-serif" textLength="62.9" lengthAdjust="spacingAndGlyphs">N-Cw</text>
<text x="1132.4" y="252.1" font-size="24.5" text-anchor="start" fill="#000000" font-weight="bold" font-family="'Liberation Sans', Arial, sans-serif" textLength="41.9" lengthAdjust="spacingAndGlyphs">N-C</text>
<rect x="1324.4" y="23.6" width="446.4" height="377.7" fill="none" stroke="#000" stroke-width="1.5"/>
<line x1="1317.4" y1="399.1" x2="1324.4" y2="399.1" stroke="#000" stroke-width="1.5"/>
<text x="1312.9" y="406.2" font-size="24" text-anchor="end" fill="#000" font-weight="bold" font-family="'Liberation Sans', Arial, sans-serif">0.0</text>
<line x1="1317.4" y1="330.75" x2="1324.4" y2="330.75" stroke="#000" stroke-width="1.5"/>
<text x="1312.9" y="337.85" font-size="24" text-anchor="end" fill="#000" font-weight="bold" font-family="'Liberation Sans', Arial, sans-serif">0.5</text>
<line x1="1317.4" y1="262.4" x2="1324.4" y2="262.4" stroke="#000" stroke-width="1.5"/>
<text x="1312.9" y="269.5" font-size="24" text-anchor="end" fill="#000" font-weight="bold" font-family="'Liberation Sans', Arial, sans-serif">1.0</text>
<line x1="1317.4" y1="194.05" x2="1324.4" y2="194.05" stroke="#000" stroke-width="1.5"/>
<text x="1312.9" y="201.15" font-size="24" text-anchor="end" fill="#000" font-weight="bold" font-family="'Liberation Sans', Arial, sans-serif">1.5</text>
<line x1="1317.4" y1="125.7" x2="1324.4" y2="125.7" stroke="#000" stroke-width="1.5"/>
<text x="1312.9" y="132.8" font-size="24" text-anchor="end" fill="#000" font-weight="bold" font-family="'Liberation Sans', Arial, sans-serif">2.0</text>
<line x1="1317.4" y1="57.35" x2="1324.4" y2="57.35" stroke="#000" stroke-width="1.5"/>
<text x="1312.9" y="64.45" font-size="24" text-anchor="end" fill="#000" font-weight="bold" font-family="'Liberation Sans', Arial, sans-serif">2.5</text>
<line x1="1320.4" y1="364.93" x2="1324.4" y2="364.93" stroke="#000" stroke-width="1.5"/>
<line x1="1320.4" y1="296.58" x2="1324.4" y2="296.58" stroke="#000" stroke-width="1.5"/>
<line x1="1320.4" y1="228.23" x2="1324.4" y2="228.23" stroke="#000" stroke-width="1.5"/>
<line x1="1320.4" y1="159.88" x2="1324.4" y2="159.88" stroke="#000" stroke-width="1.5"/>
<line x1="1320.4" y1="91.53" x2="1324.4" y2="91.53" stroke="#000" stroke-width="1.5"/>
<line x1="1333" y1="401.3" x2="1333" y2="408.8" stroke="#000" stroke-width="1.5"/>
<text x="1333" y="432.3" font-size="23" text-anchor="middle" fill="#000" font-weight="bold" font-family="'Liberation Sans', Arial, sans-serif">0</text>
<line x1="1417.22" y1="401.3" x2="1417.22" y2="408.8" stroke="#000" stroke-width="1.5"/>
<text x="1417.22" y="432.3" font-size="23" text-anchor="middle" fill="#000" font-weight="bold" font-family="'Liberation Sans', Arial, sans-serif">50</text>
<line x1="1501.44" y1="401.3" x2="1501.44" y2="408.8" stroke="#000" stroke-width="1.5"/>
<text x="1501.44" y="432.3" font-size="23" text-anchor="middle" fill="#000" font-weight="bold" font-family="'Liberation Sans', Arial, sans-serif">100</text>
<line x1="1585.66" y1="401.3" x2="1585.66" y2="408.8" stroke="#000" stroke-width="1.5"/>
<text x="1585.66" y="432.3" font-size="23" text-anchor="middle" fill="#000" font-weight="bold" font-family="'Liberation Sans', Arial, sans-serif">150</text>
<line x1="1669.88" y1="401.3" x2="1669.88" y2="408.8" stroke="#000" stroke-width="1.5"/>
<text x="1669.88" y="432.3" font-size="23" text-anchor="middle" fill="#000" font-weight="bold" font-family="'Liberation Sans', Arial, sans-serif">200</text>
<line x1="1754.1" y1="401.3" x2="1754.1" y2="408.8" stroke="#000" stroke-width="1.5"/>
<text x="1754.1" y="432.3" font-size="23" text-anchor="middle" fill="#000" font-weight="bold" font-family="'Liberation Sans', Arial, sans-serif">250</text>
<line x1="1375.11" y1="401.3" x2="1375.11" y2="405.3" stroke="#000" stroke-width="1.5"/>
<line x1="1459.33" y1="401.3" x2="1459.33" y2="405.3" stroke="#000" stroke-width="1.5"/>
<line x1="1543.55" y1="401.3" x2="1543.55" y2="405.3" stroke="#000" stroke-width="1.5"/>
<line x1="1627.77" y1="401.3" x2="1627.77" y2="405.3" stroke="#000" stroke-width="1.5"/>
<line x1="1711.99" y1="401.3" x2="1711.99" y2="405.3" stroke="#000" stroke-width="1.5"/>
<text transform="translate(1381.3,464.3) scale(0.937,1)" x="0" y="0" font-size="29.3" font-weight="bold" font-family="'Liberation Sans', Arial, sans-serif" fill="#000">Specific capacity (mA g<tspan dx="1.5" dy="-13.8" font-size="16.5">-1</tspan><tspan dx="0.5" dy="13.8">)</tspan></text>
<text transform="translate(1274.5,332.4) rotate(-90)" x="0" y="0" font-size="26.6" font-weight="bold" font-family="'Liberation Sans', Arial, sans-serif" fill="#000">Voltage (V <tspan font-style="italic">vs</tspan> Na/Na<tspan dy="-14" font-size="15.5">+</tspan><tspan dy="14">)</tspan></text>
<line x1="1325.4" y1="374.4" x2="1766.8" y2="374.4" stroke="#333" stroke-width="1.2" stroke-dasharray="9,3,2,3"/>
<polyline points="1332.4,382.48 1333.53,381.42 1334.66,380.36 1335.78,379.31 1336.91,378.26 1338.04,377.22 1339.17,376.18 1340.29,375.14 1341.42,374.1 1342.55,373.07 1343.68,372.04 1344.8,371.02 1345.93,370 1347.06,368.98 1348.19,367.96 1349.31,366.95 1350.44,365.94 1351.57,364.93 1352.7,363.93 1353.82,362.92 1354.95,361.92 1356.08,360.92 1357.21,359.93 1358.34,358.93 1359.46,357.94 1360.59,356.95 1361.72,355.96 1362.85,354.98 1363.97,353.99 1365.1,353.01 1366.23,352.02 1367.36,351.04 1368.48,350.06 1369.61,349.09 1370.74,348.11 1371.87,347.13 1372.99,346.16 1374.12,345.18 1375.25,344.21 1376.38,343.23 1377.5,342.26 1378.63,341.29 1379.76,340.32 1380.89,339.35 1382.02,338.37 1383.14,337.4 1384.27,336.43 1385.4,335.46 1386.53,334.49 1387.65,333.52 1388.78,332.54 1389.91,331.57 1391.04,330.6 1392.16,329.62 1393.29,328.65 1394.42,327.67 1395.55,326.7 1396.67,325.72 1397.8,324.74 1398.93,323.76 1400.06,322.78 1401.18,321.8 1402.31,320.82 1403.44,319.83 1404.57,318.84 1405.69,317.86 1406.82,316.87 1407.95,315.87 1409.08,314.88 1410.21,313.88 1411.33,312.88 1412.46,311.88 1413.59,310.88 1414.72,309.88 1415.84,308.87 1416.97,307.86 1418.1,306.85 1419.23,305.83 1420.35,304.81 1421.48,303.79 1422.61,302.76 1423.74,301.74 1424.86,300.71 1425.99,299.67 1427.12,298.63 1428.25,297.59 1429.37,296.55 1430.5,295.5 1431.63,294.45 1432.76,293.39 1433.89,292.33 1435.01,291.27 1436.14,290.2 1437.27,289.13 1438.4,288.05 1439.52,286.97 1440.65,285.88 1441.78,284.79 1442.91,283.7 1444.03,282.6 1445.16,281.5 1446.29,280.39 1447.42,279.27 1448.54,278.15 1449.67,277.03 1450.8,275.9 1451.93,274.76 1453.05,273.62 1454.18,272.48 1455.31,271.32 1456.44,270.17 1457.57,269 1458.69,267.83 1459.82,266.66 1460.95,265.48 1462.08,264.29 1463.2,263.1 1464.33,261.9 1465.46,260.69 1466.59,259.48 1467.71,258.26 1468.84,257.03 1469.97,255.8 1471.1,254.56 1472.22,253.31 1473.35,252.05 1474.48,250.79 1475.61,249.52 1476.73,248.25 1477.86,246.96 1478.99,245.67 1480.12,244.37 1481.25,243.07 1482.37,241.75 1483.5,240.43 1484.63,239.1 1485.76,237.76 1486.88,236.42 1488.01,235.06 1489.14,233.7 1490.27,232.33 1491.39,230.95 1492.52,229.56 1493.65,228.16 1494.78,226.76 1495.9,225.34 1497.03,223.92 1498.16,222.49 1499.29,221.05 1500.41,219.59 1501.54,218.13 1502.67,216.66 1503.8,215.19 1504.93,213.7 1506.05,212.2 1507.18,210.69 1508.31,209.17 1509.44,207.64 1510.56,206.11 1511.69,204.56 1512.82,203 1513.95,201.43 1515.07,199.85 1516.2,198.26 1517.33,196.66 1518.46,195.05 1519.58,193.43 1520.71,191.8 1521.84,190.15 1522.97,188.5 1524.09,186.83 1525.22,185.16 1526.35,183.47 1527.48,181.77 1528.61,180.06 1529.73,178.34 1530.86,176.6 1531.99,174.86 1533.12,173.1 1534.24,171.33 1535.37,169.55 1536.5,167.76 1537.63,165.96 1538.75,164.14 1539.88,162.31 1541.01,160.48 1542.14,158.62 1543.26,156.76 1544.39,154.89 1545.52,153 1546.65,151.1 1547.77,149.19 1548.9,147.26 1550.03,145.33 1551.16,143.38 1552.28,141.41 1553.41,139.44 1554.54,137.45 1555.67,135.45 1556.8,133.44 1557.92,131.42 1559.05,129.38 1560.18,127.33 1561.31,125.27 1562.43,123.19 1563.56,121.11 1564.69,119.02 1565.82,116.92 1566.94,114.82 1568.07,112.72 1569.2,110.62 1570.33,108.52 1571.45,106.42 1572.58,104.33 1573.71,102.24 1574.84,100.16 1575.96,98.09 1577.09,96.03 1578.22,93.99 1579.35,91.96 1580.48,89.94 1581.6,87.95 1582.73,85.97 1583.86,84.02 1584.99,82.09 1586.11,80.19 1587.24,78.31 1588.37,76.46 1589.5,74.65 1590.62,72.86 1591.75,71.11 1592.88,69.4 1594.01,67.72 1595.13,66.08 1596.26,64.48 1597.39,62.93 1598.52,61.42 1599.64,59.95 1600.77,58.53 1601.9,57.17" fill="none" stroke="#000000" stroke-width="2.8" stroke-linejoin="round" stroke-linecap="round"/>
<polyline points="1332.4,385.8 1333.82,384.61 1335.23,383.43 1336.65,382.26 1338.06,381.09 1339.48,379.93 1340.89,378.78 1342.31,377.63 1343.72,376.48 1345.14,375.35 1346.55,374.21 1347.97,373.08 1349.38,371.96 1350.8,370.84 1352.21,369.73 1353.63,368.62 1355.04,367.51 1356.46,366.41 1357.87,365.31 1359.29,364.22 1360.7,363.13 1362.12,362.05 1363.53,360.97 1364.95,359.89 1366.36,358.82 1367.78,357.75 1369.19,356.69 1370.61,355.63 1372.02,354.57 1373.44,353.51 1374.85,352.46 1376.27,351.41 1377.68,350.36 1379.1,349.31 1380.51,348.27 1381.93,347.23 1383.34,346.19 1384.76,345.16 1386.17,344.13 1387.59,343.09 1389,342.07 1390.42,341.04 1391.83,340.01 1393.25,338.99 1394.66,337.96 1396.08,336.94 1397.49,335.92 1398.91,334.9 1400.32,333.88 1401.74,332.86 1403.15,331.85 1404.57,330.83 1405.98,329.81 1407.4,328.8 1408.81,327.78 1410.23,326.77 1411.64,325.75 1413.06,324.74 1414.47,323.72 1415.89,322.71 1417.3,321.69 1418.72,320.68 1420.13,319.66 1421.55,318.64 1422.96,317.62 1424.38,316.6 1425.79,315.58 1427.21,314.56 1428.62,313.54 1430.04,312.51 1431.45,311.49 1432.87,310.46 1434.28,309.43 1435.7,308.4 1437.11,307.36 1438.53,306.33 1439.94,305.29 1441.36,304.25 1442.77,303.21 1444.19,302.16 1445.61,301.12 1447.02,300.07 1448.44,299.01 1449.85,297.96 1451.27,296.9 1452.68,295.84 1454.1,294.77 1455.51,293.7 1456.93,292.63 1458.34,291.55 1459.76,290.47 1461.17,289.39 1462.59,288.3 1464,287.21 1465.42,286.11 1466.83,285.01 1468.25,283.91 1469.66,282.8 1471.08,281.69 1472.49,280.57 1473.91,279.44 1475.32,278.32 1476.74,277.18 1478.15,276.04 1479.57,274.9 1480.98,273.75 1482.4,272.59 1483.81,271.43 1485.23,270.27 1486.64,269.09 1488.06,267.92 1489.47,266.73 1490.89,265.54 1492.3,264.34 1493.72,263.14 1495.13,261.93 1496.55,260.71 1497.96,259.49 1499.38,258.26 1500.79,257.02 1502.21,255.78 1503.62,254.52 1505.04,253.27 1506.45,252 1507.87,250.72 1509.28,249.44 1510.7,248.15 1512.11,246.85 1513.53,245.55 1514.94,244.24 1516.36,242.91 1517.77,241.58 1519.19,240.24 1520.6,238.9 1522.02,237.54 1523.43,236.18 1524.85,234.8 1526.26,233.42 1527.68,232.03 1529.09,230.63 1530.51,229.22 1531.92,227.8 1533.34,226.37 1534.75,224.93 1536.17,223.48 1537.58,222.02 1539,220.55 1540.41,219.07 1541.83,217.58 1543.24,216.08 1544.66,214.57 1546.07,213.05 1547.49,211.52 1548.9,209.98 1550.32,208.42 1551.73,206.86 1553.15,205.28 1554.56,203.69 1555.98,202.1 1557.39,200.49 1558.81,198.87 1560.23,197.23 1561.64,195.59 1563.06,193.93 1564.47,192.26 1565.89,190.58 1567.3,188.89 1568.72,187.19 1570.13,185.48 1571.55,183.76 1572.96,182.03 1574.38,180.29 1575.79,178.54 1577.21,176.79 1578.62,175.02 1580.04,173.25 1581.45,171.47 1582.87,169.68 1584.28,167.88 1585.7,166.08 1587.11,164.27 1588.53,162.46 1589.94,160.63 1591.36,158.81 1592.77,156.97 1594.19,155.14 1595.6,153.29 1597.02,151.45 1598.43,149.6 1599.85,147.74 1601.26,145.88 1602.68,144.02 1604.09,142.16 1605.51,140.29 1606.92,138.42 1608.34,136.55 1609.75,134.67 1611.17,132.8 1612.58,130.92 1614,129.04 1615.41,127.17 1616.83,125.29 1618.24,123.41 1619.66,121.53 1621.07,119.66 1622.49,117.78 1623.9,115.91 1625.32,114.03 1626.73,112.16 1628.15,110.29 1629.56,108.43 1630.98,106.56 1632.39,104.7 1633.81,102.84 1635.22,100.99 1636.64,99.14 1638.05,97.29 1639.47,95.45 1640.88,93.62 1642.3,91.79 1643.71,89.96 1645.13,88.14 1646.54,86.33 1647.96,84.52 1649.37,82.72 1650.79,80.93 1652.2,79.14 1653.62,77.36 1655.03,75.59 1656.45,73.83 1657.86,72.07 1659.28,70.33 1660.69,68.59 1662.11,66.86 1663.52,65.15 1664.94,63.44 1666.35,61.74 1667.77,60.06 1669.18,58.38 1670.6,56.72" fill="none" stroke="#0000ff" stroke-width="2.8" stroke-linejoin="round" stroke-linecap="round"/>
<polyline points="1332.4,394.84 1334.07,394.06 1335.74,393.26 1337.41,392.46 1339.08,391.64 1340.75,390.82 1342.41,389.98 1344.08,389.13 1345.75,388.27 1347.42,387.41 1349.09,386.53 1350.76,385.64 1352.43,384.74 1354.1,383.84 1355.77,382.92 1357.44,381.99 1359.1,381.06 1360.77,380.11 1362.44,379.16 1364.11,378.2 1365.78,377.23 1367.45,376.25 1369.12,375.26 1370.79,374.26 1372.46,373.26 1374.13,372.25 1375.79,371.23 1377.46,370.2 1379.13,369.16 1380.8,368.12 1382.47,367.07 1384.14,366.01 1385.81,364.95 1387.48,363.88 1389.15,362.8 1390.82,361.72 1392.49,360.63 1394.15,359.53 1395.82,358.43 1397.49,357.32 1399.16,356.21 1400.83,355.09 1402.5,353.96 1404.17,352.83 1405.84,351.69 1407.51,350.55 1409.18,349.41 1410.84,348.26 1412.51,347.1 1414.18,345.94 1415.85,344.77 1417.52,343.61 1419.19,342.43 1420.86,341.25 1422.53,340.07 1424.2,338.89 1425.87,337.7 1427.54,336.51 1429.2,335.31 1430.87,334.12 1432.54,332.91 1434.21,331.71 1435.88,330.5 1437.55,329.29 1439.22,328.08 1440.89,326.87 1442.56,325.65 1444.23,324.43 1445.89,323.21 1447.56,321.99 1449.23,320.77 1450.9,319.54 1452.57,318.32 1454.24,317.09 1455.91,315.86 1457.58,314.63 1459.25,313.4 1460.92,312.17 1462.58,310.94 1464.25,309.71 1465.92,308.48 1467.59,307.25 1469.26,306.01 1470.93,304.78 1472.6,303.55 1474.27,302.32 1475.94,301.09 1477.61,299.86 1479.28,298.63 1480.94,297.41 1482.61,296.18 1484.28,294.96 1485.95,293.73 1487.62,292.51 1489.29,291.29 1490.96,290.08 1492.63,288.86 1494.3,287.65 1495.97,286.44 1497.63,285.23 1499.3,284.02 1500.97,282.82 1502.64,281.61 1504.31,280.41 1505.98,279.21 1507.65,278.01 1509.32,276.81 1510.99,275.61 1512.66,274.41 1514.33,273.21 1515.99,272.01 1517.66,270.81 1519.33,269.61 1521,268.41 1522.67,267.21 1524.34,266.01 1526.01,264.8 1527.68,263.59 1529.35,262.38 1531.02,261.17 1532.68,259.96 1534.35,258.74 1536.02,257.52 1537.69,256.3 1539.36,255.07 1541.03,253.85 1542.7,252.61 1544.37,251.38 1546.04,250.13 1547.71,248.89 1549.37,247.64 1551.04,246.38 1552.71,245.12 1554.38,243.86 1556.05,242.59 1557.72,241.31 1559.39,240.03 1561.06,238.74 1562.73,237.44 1564.4,236.14 1566.07,234.83 1567.73,233.51 1569.4,232.19 1571.07,230.86 1572.74,229.52 1574.41,228.17 1576.08,226.82 1577.75,225.46 1579.42,224.08 1581.09,222.7 1582.76,221.31 1584.42,219.91 1586.09,218.51 1587.76,217.09 1589.43,215.66 1591.1,214.22 1592.77,212.77 1594.44,211.31 1596.11,209.84 1597.78,208.36 1599.45,206.87 1601.12,205.37 1602.78,203.85 1604.45,202.32 1606.12,200.78 1607.79,199.23 1609.46,197.67 1611.13,196.09 1612.8,194.5 1614.47,192.89 1616.14,191.28 1617.81,189.65 1619.47,188 1621.14,186.34 1622.81,184.67 1624.48,182.98 1626.15,181.28 1627.82,179.56 1629.49,177.83 1631.16,176.08 1632.83,174.32 1634.5,172.54 1636.16,170.74 1637.83,168.93 1639.5,167.1 1641.17,165.25 1642.84,163.39 1644.51,161.51 1646.18,159.61 1647.85,157.7 1649.52,155.77 1651.19,153.82 1652.86,151.85 1654.52,149.86 1656.19,147.85 1657.86,145.83 1659.53,143.78 1661.2,141.72 1662.87,139.64 1664.54,137.53 1666.21,135.41 1667.88,133.27 1669.55,131.1 1671.21,128.92 1672.88,126.71 1674.55,124.49 1676.22,122.24 1677.89,119.97 1679.56,117.68 1681.23,115.37 1682.9,113.04 1684.57,110.7 1686.24,108.35 1687.91,106 1689.57,103.65 1691.24,101.3 1692.91,98.96 1694.58,96.64 1696.25,94.33 1697.92,92.05 1699.59,89.78 1701.26,87.55 1702.93,85.36 1704.6,83.2 1706.26,81.08 1707.93,79.01 1709.6,76.99 1711.27,75.03 1712.94,73.12 1714.61,71.28 1716.28,69.51 1717.95,67.8 1719.62,66.18 1721.29,64.63 1722.95,63.17 1724.62,61.79 1726.29,60.51 1727.96,59.32 1729.63,58.24 1731.3,57.26" fill="none" stroke="#008000" stroke-width="3" stroke-linejoin="round" stroke-linecap="round"/>
<polyline points="1332.56,59.8 1332.61,61.21 1332.68,62.62 1332.74,64.03 1332.82,65.44 1332.9,66.85 1332.99,68.26 1333.08,69.67 1333.18,71.08 1333.29,72.49 1333.4,73.9 1333.52,75.32 1333.65,76.73 1333.78,78.14 1333.92,79.55 1334.07,80.96 1334.22,82.37 1334.38,83.78 1334.54,85.19 1334.72,86.6 1334.9,88.01 1335.08,89.42 1335.28,90.83 1335.48,92.24 1335.68,93.65 1335.9,95.06 1336.12,96.47 1336.35,97.88 1336.58,99.29 1336.82,100.7 1337.07,102.11 1337.32,103.52 1337.59,104.93 1337.86,106.35 1338.13,107.76 1338.42,109.17 1338.71,110.58 1339.01,111.99 1339.31,113.4 1339.62,114.81 1339.94,116.22 1340.27,117.63 1340.61,119.04 1340.95,120.45 1341.3,121.86 1341.65,123.27 1342.02,124.68 1342.39,126.09 1342.77,127.5 1343.15,128.91 1343.55,130.32 1343.95,131.73 1344.36,133.14 1344.77,134.55 1345.2,135.96 1345.63,137.38 1346.07,138.79 1346.52,140.2 1346.97,141.61 1347.43,143.02 1347.9,144.43 1348.38,145.84 1348.87,147.25 1349.36,148.66 1349.86,150.07 1350.37,151.48 1350.89,152.89 1351.41,154.3 1351.95,155.71 1352.49,157.12 1353.04,158.53 1353.59,159.94 1354.16,161.35 1354.73,162.76 1355.31,164.17 1355.9,165.58 1356.5,166.99 1357.11,168.41 1357.72,169.82 1358.35,171.23 1358.98,172.64 1359.61,174.05 1360.26,175.46 1360.92,176.87 1361.58,178.28 1362.25,179.69 1362.94,181.1 1363.62,182.51 1364.32,183.92 1365.03,185.33 1365.74,186.74 1366.47,188.15 1367.2,189.56 1367.94,190.97 1368.69,192.38 1369.45,193.79 1370.21,195.2 1370.99,196.61 1371.77,198.03 1372.56,199.44 1373.37,200.85 1374.18,202.26 1374.99,203.67 1375.82,205.08 1376.66,206.49 1377.5,207.9 1378.36,209.31 1379.22,210.72 1380.1,212.13 1380.98,213.54 1381.87,214.95 1382.77,216.36 1383.68,217.77 1384.59,219.18 1385.52,220.59 1386.46,222 1387.4,223.41 1388.36,224.82 1389.32,226.23 1390.29,227.64 1391.27,229.06 1392.27,230.47 1393.27,231.88 1394.28,233.29 1395.3,234.7 1396.33,236.11 1397.36,237.52 1398.41,238.93 1399.47,240.34 1400.54,241.75 1401.61,243.16 1402.7,244.57 1403.79,245.98 1404.9,247.39 1406.01,248.8 1407.14,250.21 1408.27,251.62 1409.42,253.03 1410.57,254.44 1411.73,255.85 1412.91,257.26 1414.09,258.67 1415.28,260.09 1416.48,261.5 1417.7,262.91 1418.92,264.32 1420.15,265.73 1421.39,267.14 1422.64,268.55 1423.91,269.96 1425.18,271.37 1426.46,272.78 1427.75,274.19 1429.06,275.6 1430.37,277.01 1431.69,278.42 1433.03,279.83 1434.37,281.24 1435.72,282.65 1437.09,284.06 1438.47,285.47 1439.85,286.88 1441.25,288.29 1442.67,289.71 1444.09,291.12 1445.53,292.53 1446.98,293.94 1448.45,295.35 1449.92,296.76 1451.42,298.17 1452.93,299.58 1454.45,300.99 1455.99,302.4 1457.54,303.81 1459.11,305.22 1460.69,306.63 1462.29,308.04 1463.91,309.45 1465.55,310.86 1467.2,312.27 1468.87,313.68 1470.56,315.09 1472.27,316.5 1473.99,317.91 1475.74,319.32 1477.5,320.74 1479.28,322.15 1481.09,323.56 1482.91,324.97 1484.76,326.38 1486.62,327.79 1488.51,329.2 1490.42,330.61 1492.35,332.02 1494.3,333.43 1496.27,334.84 1498.27,336.25 1500.29,337.66 1502.34,339.07 1504.41,340.48 1506.5,341.89 1508.61,343.3 1510.76,344.71 1512.92,346.12 1515.11,347.53 1517.33,348.94 1519.57,350.35 1521.84,351.77 1524.14,353.18 1526.47,354.59 1528.82,356 1531.21,357.41 1533.62,358.82 1536.07,360.23 1538.55,361.64 1541.06,363.05 1543.61,364.46 1546.19,365.87 1548.81,367.28 1551.46,368.69 1554.15,370.1 1556.88,371.51 1559.66,372.92 1562.47,374.33 1565.32,375.74 1568.22,377.15 1571.16,378.56 1574.14,379.97 1577.17,381.38 1580.24,382.8 1583.36,384.21 1586.53,385.62 1589.75,387.03 1593.01,388.44 1596.33,389.85 1599.7,391.26 1603.12,392.67 1606.59,394.08 1610.12,395.49 1613.7,396.9" fill="none" stroke="#000000" stroke-width="2.8" stroke-linejoin="round" stroke-linecap="round"/>
<polyline points="1332.7,59.7 1332.9,61.11 1333.1,62.52 1333.31,63.94 1333.52,65.35 1333.74,66.76 1333.96,68.17 1334.19,69.58 1334.42,70.99 1334.65,72.41 1334.89,73.82 1335.14,75.23 1335.39,76.64 1335.65,78.05 1335.91,79.46 1336.18,80.88 1336.45,82.29 1336.73,83.7 1337.01,85.11 1337.3,86.52 1337.59,87.93 1337.9,89.35 1338.2,90.76 1338.51,92.17 1338.83,93.58 1339.16,94.99 1339.49,96.4 1339.83,97.82 1340.17,99.23 1340.52,100.64 1340.88,102.05 1341.24,103.46 1341.61,104.87 1341.99,106.29 1342.37,107.7 1342.76,109.11 1343.16,110.52 1343.56,111.93 1343.97,113.35 1344.39,114.76 1344.81,116.17 1345.25,117.58 1345.69,118.99 1346.13,120.4 1346.59,121.82 1347.05,123.23 1347.52,124.64 1348,126.05 1348.49,127.46 1348.98,128.87 1349.48,130.29 1349.99,131.7 1350.51,133.11 1351.04,134.52 1351.57,135.93 1352.12,137.34 1352.67,138.76 1353.23,140.17 1353.8,141.58 1354.38,142.99 1354.96,144.4 1355.56,145.81 1356.16,147.23 1356.78,148.64 1357.4,150.05 1358.03,151.46 1358.67,152.87 1359.32,154.28 1359.98,155.7 1360.65,157.11 1361.33,158.52 1362.01,159.93 1362.71,161.34 1363.42,162.76 1364.14,164.17 1364.86,165.58 1365.6,166.99 1366.35,168.4 1367.1,169.81 1367.87,171.23 1368.65,172.64 1369.44,174.05 1370.24,175.46 1371.04,176.87 1371.86,178.28 1372.69,179.7 1373.53,181.11 1374.39,182.52 1375.25,183.93 1376.12,185.34 1377.01,186.75 1377.9,188.17 1378.81,189.58 1379.73,190.99 1380.66,192.4 1381.6,193.81 1382.55,195.22 1383.52,196.64 1384.49,198.05 1385.48,199.46 1386.48,200.87 1387.49,202.28 1388.51,203.69 1389.55,205.11 1390.59,206.52 1391.65,207.93 1392.73,209.34 1393.81,210.75 1394.91,212.17 1396.01,213.58 1397.14,214.99 1398.27,216.4 1399.42,217.81 1400.58,219.22 1401.75,220.64 1402.93,222.05 1404.13,223.46 1405.34,224.87 1406.57,226.28 1407.8,227.69 1409.05,229.11 1410.32,230.52 1411.59,231.93 1412.88,233.34 1414.18,234.75 1415.49,236.16 1416.82,237.58 1418.16,238.99 1419.51,240.4 1420.87,241.81 1422.25,243.22 1423.64,244.63 1425.04,246.05 1426.45,247.46 1427.88,248.87 1429.31,250.28 1430.76,251.69 1432.23,253.11 1433.7,254.52 1435.19,255.93 1436.69,257.34 1438.2,258.75 1439.73,260.16 1441.26,261.58 1442.81,262.99 1444.37,264.4 1445.95,265.81 1447.53,267.22 1449.13,268.63 1450.74,270.05 1452.36,271.46 1453.99,272.87 1455.64,274.28 1457.29,275.69 1458.96,277.1 1460.64,278.52 1462.34,279.93 1464.04,281.34 1465.76,282.75 1467.49,284.16 1469.23,285.57 1470.98,286.99 1472.74,288.4 1474.52,289.81 1476.3,291.22 1478.1,292.63 1479.91,294.04 1481.73,295.46 1483.57,296.87 1485.42,298.28 1487.28,299.69 1489.15,301.1 1491.05,302.52 1492.95,303.93 1494.88,305.34 1496.82,306.75 1498.78,308.16 1500.75,309.57 1502.75,310.99 1504.76,312.4 1506.8,313.81 1508.85,315.22 1510.93,316.63 1513.03,318.04 1515.15,319.46 1517.3,320.87 1519.47,322.28 1521.66,323.69 1523.88,325.1 1526.13,326.51 1528.4,327.93 1530.7,329.34 1533.03,330.75 1535.38,332.16 1537.77,333.57 1540.18,334.98 1542.62,336.4 1545.1,337.81 1547.61,339.22 1550.14,340.63 1552.72,342.04 1555.32,343.45 1557.96,344.87 1560.63,346.28 1563.34,347.69 1566.09,349.1 1568.87,350.51 1571.69,351.93 1574.55,353.34 1577.44,354.75 1580.38,356.16 1583.35,357.57 1586.37,358.98 1589.42,360.4 1592.52,361.81 1595.66,363.22 1598.84,364.63 1602.07,366.04 1605.34,367.45 1608.66,368.87 1612.02,370.28 1615.42,371.69 1618.88,373.1 1622.38,374.51 1625.93,375.92 1629.53,377.34 1633.17,378.75 1636.87,380.16 1640.62,381.57 1644.41,382.98 1648.26,384.39 1652.17,385.81 1656.12,387.22 1660.13,388.63 1664.2,390.04 1668.31,391.45 1672.49,392.86 1676.72,394.28 1681.01,395.69 1685.35,397.1" fill="none" stroke="#0000ff" stroke-width="2.8" stroke-linejoin="round" stroke-linecap="round"/>
<polyline points="1332.76,59.7 1332.87,61.11 1332.99,62.52 1333.12,63.94 1333.27,65.35 1333.42,66.76 1333.58,68.17 1333.75,69.58 1333.92,70.99 1334.11,72.41 1334.31,73.82 1334.52,75.23 1334.74,76.64 1334.96,78.05 1335.2,79.46 1335.44,80.88 1335.7,82.29 1335.96,83.7 1336.24,85.11 1336.52,86.52 1336.81,87.93 1337.12,89.35 1337.43,90.76 1337.75,92.17 1338.08,93.58 1338.43,94.99 1338.78,96.4 1339.14,97.82 1339.51,99.23 1339.89,100.64 1340.28,102.05 1340.68,103.46 1341.09,104.87 1341.51,106.29 1341.94,107.7 1342.38,109.11 1342.83,110.52 1343.29,111.93 1343.76,113.35 1344.24,114.76 1344.73,116.17 1345.23,117.58 1345.74,118.99 1346.26,120.4 1346.79,121.82 1347.33,123.23 1347.88,124.64 1348.44,126.05 1349.01,127.46 1349.59,128.87 1350.19,130.29 1350.79,131.7 1351.4,133.11 1352.02,134.52 1352.65,135.93 1353.29,137.34 1353.94,138.76 1354.6,140.17 1355.28,141.58 1355.96,142.99 1356.65,144.4 1357.36,145.81 1358.07,147.23 1358.79,148.64 1359.53,150.05 1360.27,151.46 1361.03,152.87 1361.79,154.28 1362.57,155.7 1363.36,157.11 1364.15,158.52 1364.96,159.93 1365.78,161.34 1366.61,162.76 1367.45,164.17 1368.3,165.58 1369.16,166.99 1370.03,168.4 1370.91,169.81 1371.8,171.23 1372.7,172.64 1373.62,174.05 1374.54,175.46 1375.47,176.87 1376.42,178.28 1377.38,179.7 1378.34,181.11 1379.32,182.52 1380.31,183.93 1381.31,185.34 1382.32,186.75 1383.34,188.17 1384.37,189.58 1385.41,190.99 1386.47,192.4 1387.53,193.81 1388.61,195.22 1389.69,196.64 1390.79,198.05 1391.9,199.46 1393.02,200.87 1394.15,202.28 1395.29,203.69 1396.44,205.11 1397.61,206.52 1398.78,207.93 1399.97,209.34 1401.16,210.75 1402.37,212.17 1403.59,213.58 1404.82,214.99 1406.06,216.4 1407.31,217.81 1408.58,219.22 1409.85,220.64 1411.14,222.05 1412.44,223.46 1413.75,224.87 1415.07,226.28 1416.4,227.69 1417.74,229.11 1419.09,230.52 1420.46,231.93 1421.83,233.34 1423.22,234.75 1424.62,236.16 1426.03,237.58 1427.46,238.99 1428.89,240.4 1430.33,241.81 1431.79,243.22 1433.26,244.63 1434.74,246.05 1436.23,247.46 1437.73,248.87 1439.25,250.28 1440.77,251.69 1442.31,253.11 1443.86,254.52 1445.42,255.93 1446.99,257.34 1448.58,258.75 1450.18,260.16 1451.78,261.58 1453.4,262.99 1455.03,264.4 1456.68,265.81 1458.33,267.22 1460,268.63 1461.68,270.05 1463.37,271.46 1465.07,272.87 1466.78,274.28 1468.51,275.69 1470.25,277.1 1472,278.52 1473.76,279.93 1475.53,281.34 1477.32,282.75 1479.11,284.16 1480.92,285.57 1482.74,286.99 1484.58,288.4 1486.43,289.81 1488.29,291.22 1490.16,292.63 1492.05,294.04 1493.96,295.46 1495.89,296.87 1497.83,298.28 1499.79,299.69 1501.76,301.1 1503.76,302.52 1505.78,303.93 1507.81,305.34 1509.87,306.75 1511.95,308.16 1514.05,309.57 1516.18,310.99 1518.33,312.4 1520.5,313.81 1522.7,315.22 1524.92,316.63 1527.17,318.04 1529.45,319.46 1531.75,320.87 1534.09,322.28 1536.45,323.69 1538.84,325.1 1541.26,326.51 1543.71,327.93 1546.19,329.34 1548.71,330.75 1551.26,332.16 1553.84,333.57 1556.45,334.98 1559.1,336.4 1561.79,337.81 1564.51,339.22 1567.27,340.63 1570.06,342.04 1572.89,343.45 1575.76,344.87 1578.67,346.28 1581.62,347.69 1584.62,349.1 1587.65,350.51 1590.72,351.93 1593.84,353.34 1596.99,354.75 1600.2,356.16 1603.44,357.57 1606.74,358.98 1610.1,360.4 1613.52,361.81 1617.02,363.22 1620.6,364.63 1624.27,366.04 1628.04,367.45 1631.92,368.87 1635.92,370.28 1640.04,371.69 1644.29,373.1 1648.69,374.51 1653.23,375.92 1657.93,377.34 1662.8,378.75 1667.84,380.16 1673.07,381.57 1678.48,382.98 1684.1,384.39 1689.92,385.81 1695.95,387.22 1702.21,388.63 1708.7,390.04 1715.43,391.45 1722.41,392.86 1729.65,394.28 1737.15,395.69 1744.93,397.1" fill="none" stroke="#008000" stroke-width="3" stroke-linejoin="round" stroke-linecap="round"/>
<text x="1349" y="47.3" font-size="17.3" text-anchor="start" fill="#000" font-weight="bold" font-family="'Liberation Sans', Arial, sans-serif" textLength="84.4" lengthAdjust="spacingAndGlyphs">55th cycle</text>
<text x="1571.6" y="53.2" font-size="26" text-anchor="start" fill="#000000" font-weight="bold" font-family="'Liberation Sans', Arial, sans-serif" textLength="45.2" lengthAdjust="spacingAndGlyphs">N-C</text>
<text x="1633.2" y="53.2" font-size="26" text-anchor="start" fill="#0000ff" font-weight="bold" font-family="'Liberation Sans', Arial, sans-serif" textLength="67.4" lengthAdjust="spacingAndGlyphs">N-Cw</text>
<text x="1710.7" y="52.7" font-size="26" text-anchor="start" fill="#008000" font-weight="bold" font-family="'Liberation Sans', Arial, sans-serif" textLength="61.6" lengthAdjust="spacingAndGlyphs">N-Ca</text>
<text x="272.6" y="602.8" font-size="42.5" font-family="'Liberation Serif', 'Times New Roman', serif" fill="#000">(</text>
<text x="286.8" y="603" font-size="40.5" font-weight="bold" font-family="'Liberation Serif', 'Times New Roman', serif" fill="#000">a</text>
<text x="307.2" y="602.8" font-size="42.5" font-family="'Liberation Serif', 'Times New Roman', serif" fill="#000">)</text>
<text x="884.9" y="602.8" font-size="42.5" font-family="'Liberation Serif', 'Times New Roman', serif" fill="#000">(</text>
<text x="897.9" y="603" font-size="42" font-weight="bold" font-family="'Liberation Serif', 'Times New Roman', serif" fill="#000">b</text>
<text x="923.9" y="602.8" font-size="42.5" font-family="'Liberation Serif', 'Times New Roman', serif" fill="#000">)</text>
<text x="1482.6" y="602.8" font-size="42.5" font-family="'Liberation Serif', 'Times New Roman', serif" fill="#000">(</text>
<text x="1496.8" y="603" font-size="40" font-weight="bold" font-family="'Liberation Serif', 'Times New Roman', serif" fill="#000">c</text>
<text x="1514.9" y="602.8" font-size="42.5" font-family="'Liberation Serif', 'Times New Roman', serif" fill="#000">)</text>
</svg></body></html>
